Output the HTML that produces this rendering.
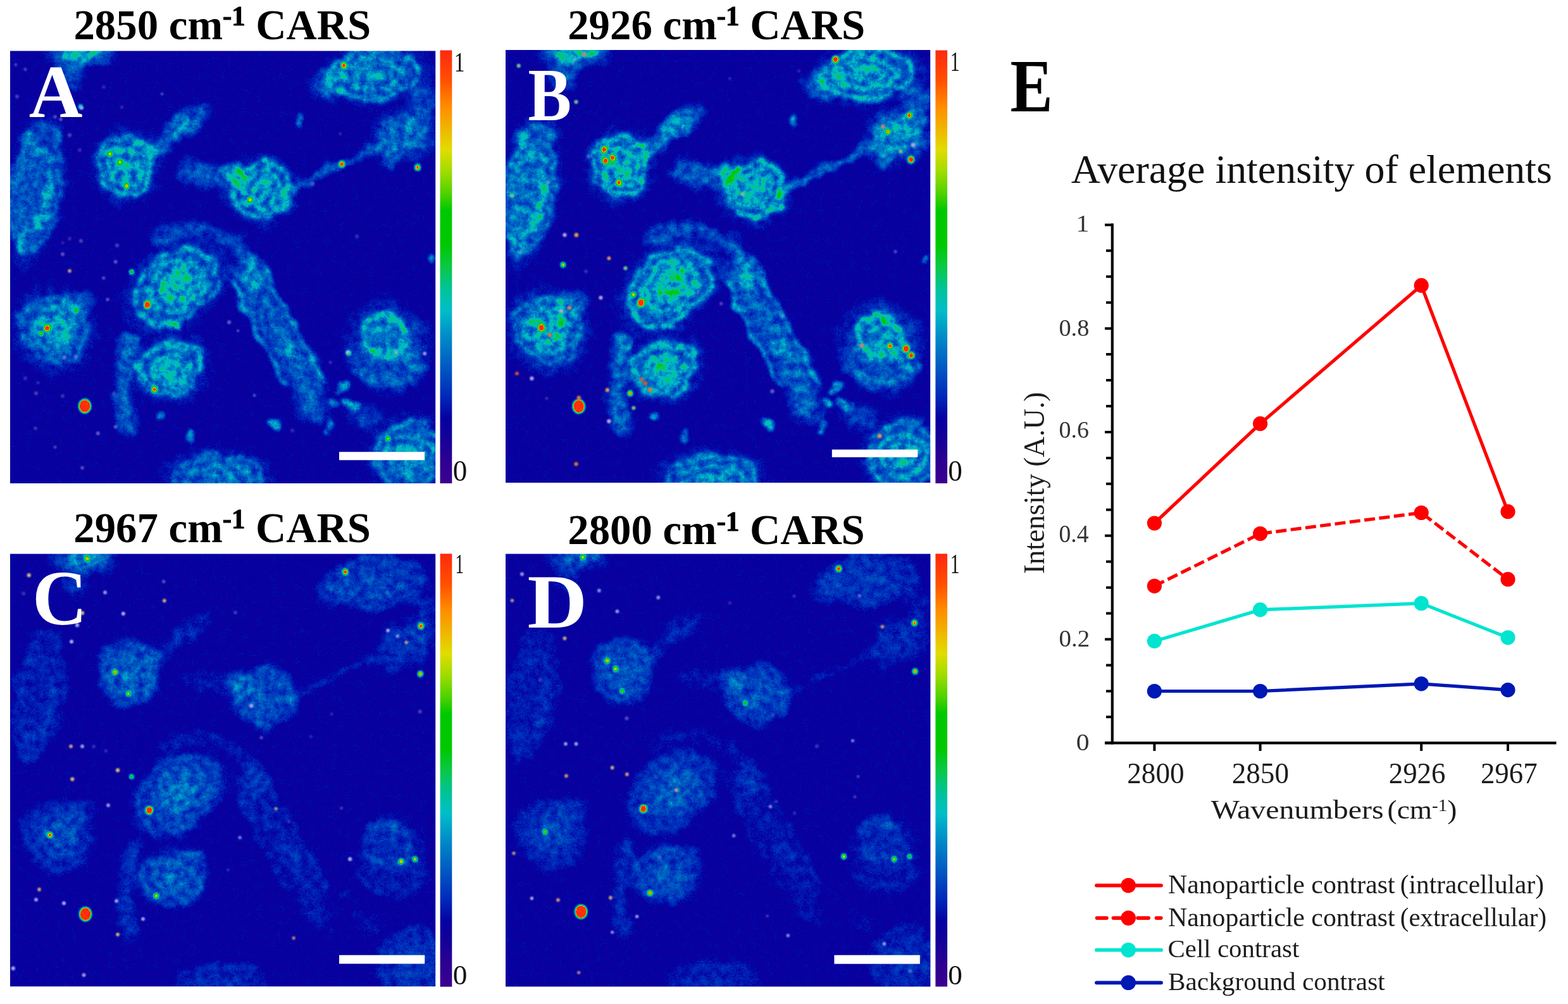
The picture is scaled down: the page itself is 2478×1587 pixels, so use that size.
<!DOCTYPE html>
<html lang="en"><head><meta charset="utf-8"><title>CARS imaging of nanoparticle contrast</title>
<style>html,body{margin:0;padding:0;background:#fff}body{width:2478px;height:1587px;overflow:hidden}svg{display:block}text{white-space:pre}</style></head><body>
<svg width="2478" height="1587" viewBox="0 0 2478 1587" role="img" aria-label="CARS images at four wavenumbers and average intensity chart">
<defs>
<linearGradient id="cb" x1="0" y1="1" x2="0" y2="0">
<stop offset="0" stop-color="#3c0090"/>
<stop offset="0.05" stop-color="#2d0091"/>
<stop offset="0.1" stop-color="#160098"/>
<stop offset="0.15" stop-color="#0600a0"/>
<stop offset="0.2" stop-color="#0028b9"/>
<stop offset="0.27" stop-color="#005ac3"/>
<stop offset="0.34" stop-color="#008cc8"/>
<stop offset="0.4" stop-color="#00bec8"/>
<stop offset="0.45" stop-color="#00c396"/>
<stop offset="0.5" stop-color="#0ac846"/>
<stop offset="0.55" stop-color="#00c800"/>
<stop offset="0.63" stop-color="#00c800"/>
<stop offset="0.67" stop-color="#50d200"/>
<stop offset="0.72" stop-color="#a0dc00"/>
<stop offset="0.77" stop-color="#e1dc00"/>
<stop offset="0.82" stop-color="#f0b400"/>
<stop offset="0.87" stop-color="#ff8c00"/>
<stop offset="0.93" stop-color="#ff5000"/>
<stop offset="1" stop-color="#ff2810"/>
</linearGradient>
<clipPath id="pc"><rect width="672" height="683"/></clipPath><filter id="db" filterUnits="userSpaceOnUse" x="0" y="0" width="672" height="683"><feGaussianBlur stdDeviation="0.9"/></filter><radialGradient id="hg"><stop offset="0.45" stop-color="#f00" stop-opacity="1"/><stop offset="0.75" stop-color="#f00" stop-opacity="0.45"/><stop offset="1" stop-color="#f00" stop-opacity="0"/></radialGradient>
<filter id="fmA" filterUnits="userSpaceOnUse" x="-40" y="-40" width="752" height="763" color-interpolation-filters="sRGB"><feTurbulence type="fractalNoise" baseFrequency="0.028" numOctaves="2" seed="5" result="lo"/><feDisplacementMap in="SourceGraphic" in2="lo" scale="28" xChannelSelector="R" yChannelSelector="G" result="d"/><feGaussianBlur in="d" stdDeviation="2.5" result="s"/><feColorMatrix in="s" type="matrix" values="0.62 0 0 0 -0.0 0.62 0 0 0 -0.0 0.62 0 0 0 -0.0 0 0 0 0 1" result="cr"/><feGaussianBlur in="SourceGraphic" stdDeviation="2.0" result="s2"/><feColorMatrix in="s2" type="matrix" values="0 1 0 0 0 0 1 0 0 0 0 1 0 0 0 0 0 0 0 1" result="sg"/><feTurbulence type="fractalNoise" baseFrequency="0.085" numOctaves="3" seed="3" result="n"/><feColorMatrix in="n" type="matrix" values="1.55 0 0 0 -0.275 1.55 0 0 0 -0.275 1.55 0 0 0 -0.275 0 0 0 0 1" result="ng"/><feComposite in="cr" in2="ng" operator="arithmetic" k1="1.0" k2="0.5" k3="0.025" k4="0.132" result="v1"/><feComposite in="v1" in2="sg" operator="arithmetic" k1="0" k2="1" k3="1.7" k4="0" result="v2"/><feTurbulence type="fractalNoise" baseFrequency="0.42" numOctaves="1" seed="53" result="nf"/><feColorMatrix in="nf" type="matrix" values="1 0 0 0 0 1 0 0 0 0 1 0 0 0 0 0 0 0 0 1" result="nfg"/><feComposite in="v2" in2="nfg" operator="arithmetic" k1="0.2" k2="0.9" k3="0.05" k4="-0.025" result="v"/><feComponentTransfer in="v"><feFuncR type="table" tableValues="0.235 0.206 0.176 0.131 0.086 0.055 0.024 0.012 0.000 0.000 0.000 0.000 0.000 0.000 0.000 0.000 0.000 0.000 0.000 0.020 0.039 0.020 0.000 0.000 0.000 0.000 0.157 0.345 0.502 0.653 0.780 0.888 0.918 0.947 0.976 1.000 1.000 1.000 1.000 1.000 1.000"/><feFuncG type="table" tableValues="0.000 0.000 0.000 0.000 0.000 0.000 0.000 0.078 0.157 0.227 0.297 0.367 0.437 0.507 0.582 0.663 0.745 0.755 0.765 0.775 0.784 0.784 0.784 0.784 0.784 0.784 0.804 0.827 0.847 0.863 0.863 0.847 0.769 0.690 0.612 0.529 0.431 0.333 0.269 0.213 0.157"/><feFuncB type="table" tableValues="0.565 0.567 0.569 0.582 0.596 0.612 0.627 0.676 0.725 0.739 0.754 0.766 0.773 0.780 0.784 0.784 0.784 0.686 0.588 0.431 0.275 0.137 0.000 0.000 0.000 0.000 0.000 0.000 0.000 0.000 0.000 0.000 0.000 0.000 0.000 0.000 0.000 0.000 0.018 0.040 0.063"/></feComponentTransfer></filter>
<filter id="fmB" filterUnits="userSpaceOnUse" x="-40" y="-40" width="752" height="763" color-interpolation-filters="sRGB"><feTurbulence type="fractalNoise" baseFrequency="0.028" numOctaves="2" seed="5" result="lo"/><feDisplacementMap in="SourceGraphic" in2="lo" scale="28" xChannelSelector="R" yChannelSelector="G" result="d"/><feGaussianBlur in="d" stdDeviation="2.5" result="s"/><feColorMatrix in="s" type="matrix" values="0.62 0 0 0 -0.0 0.62 0 0 0 -0.0 0.62 0 0 0 -0.0 0 0 0 0 1" result="cr"/><feGaussianBlur in="SourceGraphic" stdDeviation="2.0" result="s2"/><feColorMatrix in="s2" type="matrix" values="0 1 0 0 0 0 1 0 0 0 0 1 0 0 0 0 0 0 0 1" result="sg"/><feTurbulence type="fractalNoise" baseFrequency="0.085" numOctaves="3" seed="11" result="n"/><feColorMatrix in="n" type="matrix" values="1.55 0 0 0 -0.275 1.55 0 0 0 -0.275 1.55 0 0 0 -0.275 0 0 0 0 1" result="ng"/><feComposite in="cr" in2="ng" operator="arithmetic" k1="1.0" k2="0.5" k3="0.025" k4="0.132" result="v1"/><feComposite in="v1" in2="sg" operator="arithmetic" k1="0" k2="1" k3="1.7" k4="0" result="v2"/><feTurbulence type="fractalNoise" baseFrequency="0.42" numOctaves="1" seed="61" result="nf"/><feColorMatrix in="nf" type="matrix" values="1 0 0 0 0 1 0 0 0 0 1 0 0 0 0 0 0 0 0 1" result="nfg"/><feComposite in="v2" in2="nfg" operator="arithmetic" k1="0.2" k2="0.9" k3="0.05" k4="-0.025" result="v"/><feComponentTransfer in="v"><feFuncR type="table" tableValues="0.235 0.206 0.176 0.131 0.086 0.055 0.024 0.012 0.000 0.000 0.000 0.000 0.000 0.000 0.000 0.000 0.000 0.000 0.000 0.020 0.039 0.020 0.000 0.000 0.000 0.000 0.157 0.345 0.502 0.653 0.780 0.888 0.918 0.947 0.976 1.000 1.000 1.000 1.000 1.000 1.000"/><feFuncG type="table" tableValues="0.000 0.000 0.000 0.000 0.000 0.000 0.000 0.078 0.157 0.227 0.297 0.367 0.437 0.507 0.582 0.663 0.745 0.755 0.765 0.775 0.784 0.784 0.784 0.784 0.784 0.784 0.804 0.827 0.847 0.863 0.863 0.847 0.769 0.690 0.612 0.529 0.431 0.333 0.269 0.213 0.157"/><feFuncB type="table" tableValues="0.565 0.567 0.569 0.582 0.596 0.612 0.627 0.676 0.725 0.739 0.754 0.766 0.773 0.780 0.784 0.784 0.784 0.686 0.588 0.431 0.275 0.137 0.000 0.000 0.000 0.000 0.000 0.000 0.000 0.000 0.000 0.000 0.000 0.000 0.000 0.000 0.000 0.000 0.018 0.040 0.063"/></feComponentTransfer></filter>
<filter id="fmC" filterUnits="userSpaceOnUse" x="-40" y="-40" width="752" height="763" color-interpolation-filters="sRGB"><feTurbulence type="fractalNoise" baseFrequency="0.028" numOctaves="2" seed="5" result="lo"/><feDisplacementMap in="SourceGraphic" in2="lo" scale="28" xChannelSelector="R" yChannelSelector="G" result="d"/><feGaussianBlur in="d" stdDeviation="4.6" result="s"/><feColorMatrix in="s" type="matrix" values="0.66 0 0 0 -0.012 0.66 0 0 0 -0.012 0.66 0 0 0 -0.012 0 0 0 0 1" result="cr"/><feGaussianBlur in="SourceGraphic" stdDeviation="2.0" result="s2"/><feColorMatrix in="s2" type="matrix" values="0 1 0 0 0 0 1 0 0 0 0 1 0 0 0 0 0 0 0 1" result="sg"/><feTurbulence type="fractalNoise" baseFrequency="0.085" numOctaves="3" seed="23" result="n"/><feColorMatrix in="n" type="matrix" values="1.55 0 0 0 -0.275 1.55 0 0 0 -0.275 1.55 0 0 0 -0.275 0 0 0 0 1" result="ng"/><feComposite in="cr" in2="ng" operator="arithmetic" k1="1.0" k2="0.5" k3="0.025" k4="0.132" result="v1"/><feComposite in="v1" in2="sg" operator="arithmetic" k1="0" k2="1" k3="1.7" k4="0" result="v2"/><feTurbulence type="fractalNoise" baseFrequency="0.42" numOctaves="1" seed="73" result="nf"/><feColorMatrix in="nf" type="matrix" values="1 0 0 0 0 1 0 0 0 0 1 0 0 0 0 0 0 0 0 1" result="nfg"/><feComposite in="v2" in2="nfg" operator="arithmetic" k1="0.2" k2="0.9" k3="0.05" k4="-0.025" result="v"/><feComponentTransfer in="v"><feFuncR type="table" tableValues="0.235 0.206 0.176 0.131 0.086 0.055 0.024 0.012 0.000 0.000 0.000 0.000 0.000 0.000 0.000 0.000 0.000 0.000 0.000 0.020 0.039 0.020 0.000 0.000 0.000 0.000 0.157 0.345 0.502 0.653 0.780 0.888 0.918 0.947 0.976 1.000 1.000 1.000 1.000 1.000 1.000"/><feFuncG type="table" tableValues="0.000 0.000 0.000 0.000 0.000 0.000 0.000 0.078 0.157 0.227 0.297 0.367 0.437 0.507 0.582 0.663 0.745 0.755 0.765 0.775 0.784 0.784 0.784 0.784 0.784 0.784 0.804 0.827 0.847 0.863 0.863 0.847 0.769 0.690 0.612 0.529 0.431 0.333 0.269 0.213 0.157"/><feFuncB type="table" tableValues="0.565 0.567 0.569 0.582 0.596 0.612 0.627 0.676 0.725 0.739 0.754 0.766 0.773 0.780 0.784 0.784 0.784 0.686 0.588 0.431 0.275 0.137 0.000 0.000 0.000 0.000 0.000 0.000 0.000 0.000 0.000 0.000 0.000 0.000 0.000 0.000 0.000 0.000 0.018 0.040 0.063"/></feComponentTransfer></filter>
<filter id="fmD" filterUnits="userSpaceOnUse" x="-40" y="-40" width="752" height="763" color-interpolation-filters="sRGB"><feTurbulence type="fractalNoise" baseFrequency="0.028" numOctaves="2" seed="5" result="lo"/><feDisplacementMap in="SourceGraphic" in2="lo" scale="28" xChannelSelector="R" yChannelSelector="G" result="d"/><feGaussianBlur in="d" stdDeviation="5.2" result="s"/><feColorMatrix in="s" type="matrix" values="0.66 0 0 0 -0.014 0.66 0 0 0 -0.014 0.66 0 0 0 -0.014 0 0 0 0 1" result="cr"/><feGaussianBlur in="SourceGraphic" stdDeviation="2.0" result="s2"/><feColorMatrix in="s2" type="matrix" values="0 1 0 0 0 0 1 0 0 0 0 1 0 0 0 0 0 0 0 1" result="sg"/><feTurbulence type="fractalNoise" baseFrequency="0.085" numOctaves="3" seed="37" result="n"/><feColorMatrix in="n" type="matrix" values="1.55 0 0 0 -0.275 1.55 0 0 0 -0.275 1.55 0 0 0 -0.275 0 0 0 0 1" result="ng"/><feComposite in="cr" in2="ng" operator="arithmetic" k1="1.0" k2="0.5" k3="0.025" k4="0.132" result="v1"/><feComposite in="v1" in2="sg" operator="arithmetic" k1="0" k2="1" k3="1.7" k4="0" result="v2"/><feTurbulence type="fractalNoise" baseFrequency="0.42" numOctaves="1" seed="87" result="nf"/><feColorMatrix in="nf" type="matrix" values="1 0 0 0 0 1 0 0 0 0 1 0 0 0 0 0 0 0 0 1" result="nfg"/><feComposite in="v2" in2="nfg" operator="arithmetic" k1="0.2" k2="0.9" k3="0.05" k4="-0.025" result="v"/><feComponentTransfer in="v"><feFuncR type="table" tableValues="0.235 0.206 0.176 0.131 0.086 0.055 0.024 0.012 0.000 0.000 0.000 0.000 0.000 0.000 0.000 0.000 0.000 0.000 0.000 0.020 0.039 0.020 0.000 0.000 0.000 0.000 0.157 0.345 0.502 0.653 0.780 0.888 0.918 0.947 0.976 1.000 1.000 1.000 1.000 1.000 1.000"/><feFuncG type="table" tableValues="0.000 0.000 0.000 0.000 0.000 0.000 0.000 0.078 0.157 0.227 0.297 0.367 0.437 0.507 0.582 0.663 0.745 0.755 0.765 0.775 0.784 0.784 0.784 0.784 0.784 0.784 0.804 0.827 0.847 0.863 0.863 0.847 0.769 0.690 0.612 0.529 0.431 0.333 0.269 0.213 0.157"/><feFuncB type="table" tableValues="0.565 0.567 0.569 0.582 0.596 0.612 0.627 0.676 0.725 0.739 0.754 0.766 0.773 0.780 0.784 0.784 0.784 0.686 0.588 0.431 0.275 0.137 0.000 0.000 0.000 0.000 0.000 0.000 0.000 0.000 0.000 0.000 0.000 0.000 0.000 0.000 0.000 0.000 0.018 0.040 0.063"/></feComponentTransfer></filter>
</defs>
<rect width="2478" height="1587" fill="#fff"/>
<g transform="translate(16 80.5) scale(1.00030 1.00073)">
<g clip-path="url(#pc)"><g filter="url(#fmA)"><rect x="-40" y="-40" width="752" height="763" fill="#000"/><g transform="translate(0 0)"><g opacity="0.85"><ellipse cx="112" cy="0" rx="62" ry="34" fill="url(#hg)" fill-opacity="0.3"/><ellipse cx="116" cy="0" rx="34" ry="14" fill="#f00" fill-opacity="0.22"/><ellipse cx="92" cy="40" rx="30" ry="28" fill="url(#hg)" fill-opacity="0.2" transform="rotate(-30 92 40)"/></g><g opacity="0.68"><ellipse cx="40" cy="218" rx="52" ry="135.2" fill="url(#hg)" fill-opacity="0.22" transform="rotate(8 40 218)"/><ellipse cx="40" cy="218" rx="40" ry="104" fill="#f00" fill-opacity="0.07" transform="rotate(8 40 218)"/><ellipse cx="40" cy="218" rx="38" ry="98.8" fill="none" stroke="#f00" stroke-width="8.2" stroke-opacity="0.16" transform="rotate(8 40 218)"/><ellipse cx="40" cy="218" rx="24.8" ry="64.48" fill="none" stroke="#f00" stroke-width="8.2" stroke-opacity="0.13" transform="rotate(8 40 218)"/><path d="M64 200 C58 228 50 250 44 280" fill="none" stroke="#f00" stroke-width="9" stroke-opacity="0.26" stroke-linecap="round" stroke-linejoin="round"/><ellipse cx="22" cy="295" rx="18" ry="32" fill="url(#hg)" fill-opacity="0.2" transform="rotate(10 22 295)"/><ellipse cx="30" cy="150" rx="14" ry="24" fill="#f00" fill-opacity="0.12" transform="rotate(10 30 150)"/></g><g opacity="0.8"><ellipse cx="184" cy="182" rx="65.25" ry="69.6" fill="url(#hg)" fill-opacity="0.22"/><ellipse cx="184" cy="182" rx="45" ry="48" fill="#f00" fill-opacity="0.07"/><ellipse cx="184" cy="182" rx="42.75" ry="45.6" fill="none" stroke="#f00" stroke-width="8.2" stroke-opacity="0.27"/><ellipse cx="184" cy="182" rx="27.9" ry="29.76" fill="none" stroke="#f00" stroke-width="8.2" stroke-opacity="0.26"/><ellipse cx="184" cy="182" rx="18" ry="19.2" fill="#f00" fill-opacity="0.25"/><path d="M206 146 A44 44 0 0 1 216 216" fill="none" stroke="#f00" stroke-width="8" stroke-opacity="0.16" stroke-linecap="round" stroke-linejoin="round"/></g><g opacity="0.68"><path d="M228 158 C250 135 272 122 302 92" fill="none" stroke="#f00" stroke-width="37.7" stroke-opacity="0.09" stroke-linecap="round" stroke-linejoin="round"/><path d="M228 158 C250 135 272 122 302 92" fill="none" stroke="#f00" stroke-width="26" stroke-opacity="0.1" stroke-linecap="round" stroke-linejoin="round"/><path d="M228 158 C250 135 272 122 302 92" fill="none" stroke="#f00" stroke-width="15.6" stroke-opacity="0.1" stroke-linecap="round" stroke-linejoin="round"/><ellipse cx="264" cy="124" rx="32" ry="24" fill="url(#hg)" fill-opacity="0.2" transform="rotate(-35 264 124)"/></g><g opacity="0.8"><ellipse cx="396" cy="220" rx="65.25" ry="66.7" fill="url(#hg)" fill-opacity="0.22"/><ellipse cx="396" cy="220" rx="45" ry="46" fill="#f00" fill-opacity="0.07"/><ellipse cx="396" cy="220" rx="42.75" ry="43.7" fill="none" stroke="#f00" stroke-width="8.2" stroke-opacity="0.3"/><ellipse cx="396" cy="220" rx="27.9" ry="28.52" fill="none" stroke="#f00" stroke-width="8.2" stroke-opacity="0.26"/><ellipse cx="396" cy="220" rx="18" ry="18.4" fill="#f00" fill-opacity="0.25"/><ellipse cx="356" cy="196" rx="26" ry="24" fill="url(#hg)" fill-opacity="0.3"/><path d="M426 190 A40 40 0 0 1 426 254" fill="none" stroke="#f00" stroke-width="7" stroke-opacity="0.14" stroke-linecap="round" stroke-linejoin="round"/></g><g opacity="0.7"><path d="M282 188 C302 198 330 200 356 200" fill="none" stroke="#f00" stroke-width="43.5" stroke-opacity="0.08" stroke-linecap="round" stroke-linejoin="round"/><path d="M282 188 C302 198 330 200 356 200" fill="none" stroke="#f00" stroke-width="30" stroke-opacity="0.1" stroke-linecap="round" stroke-linejoin="round"/><path d="M282 188 C302 198 330 200 356 200" fill="none" stroke="#f00" stroke-width="18" stroke-opacity="0.1" stroke-linecap="round" stroke-linejoin="round"/></g><g opacity="0.5"><path d="M438 226 C470 205 490 184 525 176 S560 160 582 148" fill="none" stroke="#f00" stroke-width="17.4" stroke-opacity="0.13" stroke-linecap="round" stroke-linejoin="round"/><path d="M438 226 C470 205 490 184 525 176 S560 160 582 148" fill="none" stroke="#f00" stroke-width="12" stroke-opacity="0.14" stroke-linecap="round" stroke-linejoin="round"/><path d="M438 226 C470 205 490 184 525 176 S560 160 582 148" fill="none" stroke="#f00" stroke-width="7.2" stroke-opacity="0.14" stroke-linecap="round" stroke-linejoin="round"/></g><g opacity="0.58"><ellipse cx="625" cy="135" rx="62" ry="52" fill="url(#hg)" fill-opacity="0.28"/><ellipse cx="618" cy="130" rx="38" ry="28" fill="#f00" fill-opacity="0.12" transform="rotate(-20 618 130)"/><ellipse cx="650" cy="110" rx="20" ry="24" fill="#f00" fill-opacity="0.16"/><path d="M585 136 C600 118 625 112 646 120" fill="none" stroke="#f00" stroke-width="7" stroke-opacity="0.18" stroke-linecap="round" stroke-linejoin="round"/><path d="M592 160 C612 150 630 156 648 150" fill="none" stroke="#f00" stroke-width="7" stroke-opacity="0.14" stroke-linecap="round" stroke-linejoin="round"/><ellipse cx="600" cy="168" rx="26" ry="18" fill="url(#hg)" fill-opacity="0.2"/></g><g opacity="0.7"><ellipse cx="574" cy="36" rx="106.4" ry="56" fill="url(#hg)" fill-opacity="0.22" transform="rotate(-5 574 36)"/><ellipse cx="574" cy="36" rx="76" ry="40" fill="#f00" fill-opacity="0.07" transform="rotate(-5 574 36)"/><ellipse cx="574" cy="36" rx="72.2" ry="38" fill="none" stroke="#f00" stroke-width="8.2" stroke-opacity="0.3" transform="rotate(-5 574 36)"/><ellipse cx="574" cy="36" rx="47.12" ry="24.8" fill="none" stroke="#f00" stroke-width="8.2" stroke-opacity="0.26" transform="rotate(-5 574 36)"/><ellipse cx="574" cy="36" rx="30.4" ry="16" fill="#f00" fill-opacity="0.22" transform="rotate(-5 574 36)"/><ellipse cx="505" cy="52" rx="36" ry="34" fill="url(#hg)" fill-opacity="0.22"/><ellipse cx="652" cy="78" rx="34" ry="32" fill="url(#hg)" fill-opacity="0.2"/></g><g opacity="0.8"><ellipse cx="262" cy="372" rx="106.4" ry="72.8" fill="url(#hg)" fill-opacity="0.22" transform="rotate(-38 262 372)"/><ellipse cx="262" cy="372" rx="76" ry="52" fill="#f00" fill-opacity="0.07" transform="rotate(-38 262 372)"/><ellipse cx="262" cy="372" rx="72.2" ry="49.4" fill="none" stroke="#f00" stroke-width="8.2" stroke-opacity="0.27" transform="rotate(-38 262 372)"/><ellipse cx="262" cy="372" rx="47.12" ry="32.24" fill="none" stroke="#f00" stroke-width="8.2" stroke-opacity="0.26" transform="rotate(-38 262 372)"/><ellipse cx="262" cy="372" rx="31.92" ry="21.84" fill="#f00" fill-opacity="0.28" transform="rotate(-38 262 372)"/><ellipse cx="270" cy="366" rx="34" ry="22" fill="#f00" fill-opacity="0.1" transform="rotate(-38 270 366)"/></g><g opacity="0.6"><path d="M232 300 C270 272 320 276 350 300 S380 345 390 365" fill="none" stroke="#f00" stroke-width="31.9" stroke-opacity="0.09" stroke-linecap="round" stroke-linejoin="round"/><path d="M232 300 C270 272 320 276 350 300 S380 345 390 365" fill="none" stroke="#f00" stroke-width="22" stroke-opacity="0.1" stroke-linecap="round" stroke-linejoin="round"/><path d="M232 300 C270 272 320 276 350 300 S380 345 390 365" fill="none" stroke="#f00" stroke-width="13.2" stroke-opacity="0.1" stroke-linecap="round" stroke-linejoin="round"/></g><g opacity="0.8"><path d="M372 350 C390 390 420 440 445 480 S470 530 478 560" fill="none" stroke="#f00" stroke-width="63.8" stroke-opacity="0.08" stroke-linecap="round" stroke-linejoin="round"/><path d="M372 350 C390 390 420 440 445 480 S470 530 478 560" fill="none" stroke="#f00" stroke-width="44" stroke-opacity="0.1" stroke-linecap="round" stroke-linejoin="round"/><path d="M372 350 C390 390 420 440 445 480 S470 530 478 560" fill="none" stroke="#f00" stroke-width="26.4" stroke-opacity="0.1" stroke-linecap="round" stroke-linejoin="round"/><path d="M356 366 C373 420 406 472 436 522" fill="none" stroke="#f00" stroke-width="7" stroke-opacity="0.32" stroke-linecap="round" stroke-linejoin="round"/><path d="M398 344 C422 392 462 450 494 524" fill="none" stroke="#f00" stroke-width="7" stroke-opacity="0.3" stroke-linecap="round" stroke-linejoin="round"/><ellipse cx="440" cy="470" rx="10" ry="22" fill="#f00" fill-opacity="0.12" transform="rotate(-32 440 470)"/></g><g opacity="0.72"><ellipse cx="70" cy="440" rx="72.5" ry="81.2" fill="url(#hg)" fill-opacity="0.22" transform="rotate(-15 70 440)"/><ellipse cx="70" cy="440" rx="50" ry="56" fill="#f00" fill-opacity="0.07" transform="rotate(-15 70 440)"/><ellipse cx="70" cy="440" rx="47.5" ry="53.2" fill="none" stroke="#f00" stroke-width="8.2" stroke-opacity="0.14" transform="rotate(-15 70 440)"/><ellipse cx="70" cy="440" rx="31" ry="34.72" fill="none" stroke="#f00" stroke-width="8.2" stroke-opacity="0.18" transform="rotate(-15 70 440)"/><ellipse cx="70" cy="440" rx="22.5" ry="25.2" fill="#f00" fill-opacity="0.25" transform="rotate(-15 70 440)"/><ellipse cx="102" cy="398" rx="34" ry="24" fill="url(#hg)" fill-opacity="0.2" transform="rotate(-30 102 398)"/><ellipse cx="90" cy="440" rx="11" ry="22" fill="#f00" fill-opacity="0.2" transform="rotate(10 90 440)"/><ellipse cx="55" cy="428" rx="16" ry="12" fill="#f00" fill-opacity="0.2"/></g><g opacity="0.8"><ellipse cx="254" cy="502" rx="72.8" ry="58.8" fill="url(#hg)" fill-opacity="0.22" transform="rotate(-10 254 502)"/><ellipse cx="254" cy="502" rx="52" ry="42" fill="#f00" fill-opacity="0.07" transform="rotate(-10 254 502)"/><ellipse cx="254" cy="502" rx="49.4" ry="39.9" fill="none" stroke="#f00" stroke-width="8.2" stroke-opacity="0.3" transform="rotate(-10 254 502)"/><ellipse cx="254" cy="502" rx="32.24" ry="26.04" fill="none" stroke="#f00" stroke-width="8.2" stroke-opacity="0.26" transform="rotate(-10 254 502)"/><ellipse cx="254" cy="502" rx="23.4" ry="18.9" fill="#f00" fill-opacity="0.3" transform="rotate(-10 254 502)"/><path d="M186 470 C176 510 176 550 186 590" fill="none" stroke="#f00" stroke-width="40.6" stroke-opacity="0.08" stroke-linecap="round" stroke-linejoin="round"/><path d="M186 470 C176 510 176 550 186 590" fill="none" stroke="#f00" stroke-width="28" stroke-opacity="0.1" stroke-linecap="round" stroke-linejoin="round"/><path d="M186 470 C176 510 176 550 186 590" fill="none" stroke="#f00" stroke-width="16.8" stroke-opacity="0.1" stroke-linecap="round" stroke-linejoin="round"/><ellipse cx="192" cy="455" rx="12" ry="14" fill="#f00" fill-opacity="0.24"/></g><g opacity="0.8"><ellipse cx="598" cy="466" rx="78" ry="82" fill="url(#hg)" fill-opacity="0.22" transform="rotate(-20 598 466)"/><ellipse cx="590" cy="452" rx="40" ry="40" fill="#f00" fill-opacity="0.1"/><ellipse cx="588" cy="450" rx="34" ry="34" fill="none" stroke="#f00" stroke-width="7" stroke-opacity="0.24"/><ellipse cx="588" cy="452" rx="18" ry="18" fill="none" stroke="#f00" stroke-width="6" stroke-opacity="0.12"/><path d="M556 440 C568 414 606 410 624 442" fill="none" stroke="#f00" stroke-width="8" stroke-opacity="0.2" stroke-linecap="round" stroke-linejoin="round"/><path d="M560 480 H640" fill="none" stroke="#f00" stroke-width="7" stroke-opacity="0.2" stroke-linecap="round" stroke-linejoin="round"/><path d="M545 500 C570 530 620 535 655 505" fill="none" stroke="#f00" stroke-width="26.1" stroke-opacity="0.06" stroke-linecap="round" stroke-linejoin="round"/><path d="M545 500 C570 530 620 535 655 505" fill="none" stroke="#f00" stroke-width="18" stroke-opacity="0.07" stroke-linecap="round" stroke-linejoin="round"/><path d="M545 500 C570 530 620 535 655 505" fill="none" stroke="#f00" stroke-width="10.8" stroke-opacity="0.07" stroke-linecap="round" stroke-linejoin="round"/><ellipse cx="565" cy="426" rx="7" ry="6" fill="#f00" fill-opacity="0.3"/><ellipse cx="603" cy="426" rx="7" ry="6" fill="#f00" fill-opacity="0.3"/><ellipse cx="575" cy="477" rx="6" ry="7" fill="#f00" fill-opacity="0.34"/><ellipse cx="603" cy="473" rx="8" ry="5" fill="#f00" fill-opacity="0.28"/><ellipse cx="640" cy="500" rx="6" ry="10" fill="#f00" fill-opacity="0.2" transform="rotate(-30 640 500)"/></g><g opacity="0.72"><ellipse cx="630" cy="640" rx="72.9" ry="75.6" fill="url(#hg)" fill-opacity="0.22"/><ellipse cx="630" cy="640" rx="54" ry="56" fill="#f00" fill-opacity="0.07"/><ellipse cx="630" cy="640" rx="51.3" ry="53.2" fill="none" stroke="#f00" stroke-width="8.2" stroke-opacity="0.24"/><ellipse cx="630" cy="640" rx="33.48" ry="34.72" fill="none" stroke="#f00" stroke-width="8.2" stroke-opacity="0.23"/><ellipse cx="630" cy="640" rx="21.6" ry="22.4" fill="#f00" fill-opacity="0.22"/><ellipse cx="560" cy="578" rx="30" ry="26" fill="url(#hg)" fill-opacity="0.16"/></g><g opacity="0.65"><ellipse cx="330" cy="678" rx="103.6" ry="56" fill="url(#hg)" fill-opacity="0.22"/><ellipse cx="330" cy="678" rx="74" ry="40" fill="#f00" fill-opacity="0.07"/><ellipse cx="330" cy="678" rx="70.3" ry="38" fill="none" stroke="#f00" stroke-width="8.2" stroke-opacity="0.24"/><ellipse cx="330" cy="678" rx="45.88" ry="24.8" fill="none" stroke="#f00" stroke-width="8.2" stroke-opacity="0.21"/><ellipse cx="330" cy="678" rx="29.6" ry="16" fill="#f00" fill-opacity="0.18"/></g><g opacity="1"><ellipse cx="414" cy="588" rx="8" ry="8" fill="#f00" fill-opacity="0.4"/><ellipse cx="516" cy="554" rx="7" ry="7" fill="#f00" fill-opacity="0.4"/><ellipse cx="540" cy="556" rx="10" ry="10" fill="#f00" fill-opacity="0.3"/><ellipse cx="527" cy="532" rx="7" ry="7" fill="#f00" fill-opacity="0.35"/><ellipse cx="505" cy="584" rx="8" ry="8" fill="#f00" fill-opacity="0.3"/><ellipse cx="500" cy="600" rx="6" ry="6" fill="#f00" fill-opacity="0.3"/><ellipse cx="235" cy="575" rx="5" ry="5" fill="#f00" fill-opacity="0.35"/><ellipse cx="260" cy="435" rx="8" ry="8" fill="#f00" fill-opacity="0.35"/><ellipse cx="285" cy="610" rx="8" ry="8" fill="#f00" fill-opacity="0.3"/><ellipse cx="662" cy="322" rx="5" ry="5" fill="#f00" fill-opacity="0.4"/><ellipse cx="455" cy="108" rx="6" ry="6" fill="#f00" fill-opacity="0.3"/></g></g><g style="mix-blend-mode:screen"><ellipse cx="118" cy="561" rx="7.82" ry="9.35" fill="#0f0" fill-opacity="1"/><ellipse cx="216.7" cy="401" rx="3.6" ry="4.4" fill="#0f0" fill-opacity="0.95"/><ellipse cx="58.3" cy="438" rx="2.88" ry="3.52" fill="#0f0" fill-opacity="0.85"/><ellipse cx="49" cy="446" rx="2.16" ry="2.64" fill="#0f0" fill-opacity="0.6"/><ellipse cx="524" cy="178.7" rx="2.88" ry="3.52" fill="#0f0" fill-opacity="0.8"/><ellipse cx="643.7" cy="184" rx="3.02" ry="3.7" fill="#0f0" fill-opacity="0.75"/><ellipse cx="527" cy="23" rx="2.88" ry="3.52" fill="#0f0" fill-opacity="0.8"/><ellipse cx="173.6" cy="176" rx="2.16" ry="2.64" fill="#0f0" fill-opacity="0.6"/><ellipse cx="158" cy="163" rx="2.16" ry="2.64" fill="#0f0" fill-opacity="0.65"/><ellipse cx="184" cy="214" rx="2.3" ry="2.82" fill="#0f0" fill-opacity="0.6"/><ellipse cx="378.8" cy="234.8" rx="2.16" ry="2.64" fill="#0f0" fill-opacity="0.7"/><ellipse cx="228" cy="534.6" rx="2.52" ry="3.08" fill="#0f0" fill-opacity="0.75"/><ellipse cx="191.8" cy="349" rx="2.16" ry="2.64" fill="#0f0" fill-opacity="0.7"/><ellipse cx="534.6" cy="477.4" rx="2.16" ry="2.64" fill="#0f0" fill-opacity="0.6"/><ellipse cx="597" cy="612.5" rx="2.16" ry="2.64" fill="#0f0" fill-opacity="0.65"/><ellipse cx="111.3" cy="87.8" rx="2.16" ry="2.64" fill="#0f0" fill-opacity="0.5"/><ellipse cx="105.5" cy="410.8" rx="2.02" ry="2.46" fill="#0f0" fill-opacity="0.5"/></g></g><g filter="url(#db)"><g opacity="0.8"><circle cx="9" cy="22" r="2.44" fill="#a898ee" fill-opacity="0.52"/><circle cx="24" cy="29" r="2.57" fill="#a898ee" fill-opacity="0.54"/><circle cx="148" cy="57" r="2.83" fill="#a898ee" fill-opacity="0.33"/><circle cx="240" cy="68" r="2.21" fill="#a898ee" fill-opacity="0.63"/><circle cx="176.5" cy="89" r="2.46" fill="#a898ee" fill-opacity="0.39"/><circle cx="94" cy="133" r="3.2" fill="#a898ee" fill-opacity="0.49"/><circle cx="11" cy="72" r="3.04" fill="#a898ee" fill-opacity="0.49"/><circle cx="110" cy="156.6" r="2.84" fill="#a898ee" fill-opacity="0.36"/><circle cx="80" cy="108" r="2.83" fill="#a898ee" fill-opacity="0.65"/><circle cx="71" cy="104" r="2.72" fill="#a898ee" fill-opacity="0.6"/><circle cx="94" cy="296.5" r="2.87" fill="#a898ee" fill-opacity="0.33"/><circle cx="112" cy="300" r="2.96" fill="#a898ee" fill-opacity="0.54"/><circle cx="83" cy="303" r="2.5" fill="#a898ee" fill-opacity="0.31"/><circle cx="169" cy="307" r="3.07" fill="#a898ee" fill-opacity="0.49"/><circle cx="83" cy="321" r="2.92" fill="#a898ee" fill-opacity="0.65"/><circle cx="166.6" cy="333" r="2.91" fill="#a898ee" fill-opacity="0.67"/><circle cx="147.7" cy="358.7" r="2.59" fill="#a898ee" fill-opacity="0.62"/><circle cx="154" cy="392.6" r="2.64" fill="#a898ee" fill-opacity="0.67"/><circle cx="24" cy="517" r="3.08" fill="#a898ee" fill-opacity="0.34"/><circle cx="44" cy="524" r="2.34" fill="#a898ee" fill-opacity="0.39"/><circle cx="41" cy="540.7" r="3.17" fill="#a898ee" fill-opacity="0.47"/><circle cx="83" cy="545" r="2.83" fill="#a898ee" fill-opacity="0.42"/><circle cx="40" cy="596" r="2.71" fill="#a898ee" fill-opacity="0.45"/><circle cx="71" cy="625.8" r="2.55" fill="#a898ee" fill-opacity="0.53"/><circle cx="114" cy="658.5" r="2.78" fill="#a898ee" fill-opacity="0.66"/><circle cx="166.6" cy="593.6" r="2.88" fill="#a898ee" fill-opacity="0.67"/><circle cx="138.8" cy="604" r="3.06" fill="#a898ee" fill-opacity="0.7"/><circle cx="164" cy="541" r="2.87" fill="#a898ee" fill-opacity="0.37"/><circle cx="85.5" cy="484" r="3.06" fill="#a898ee" fill-opacity="0.69"/><circle cx="104" cy="483" r="3.1" fill="#a898ee" fill-opacity="0.53"/><circle cx="548" cy="293" r="2.91" fill="#a898ee" fill-opacity="0.38"/><circle cx="478" cy="210" r="3.03" fill="#a898ee" fill-opacity="0.53"/><circle cx="521.4" cy="131" r="2.48" fill="#a898ee" fill-opacity="0.33"/><circle cx="346" cy="428.6" r="3.05" fill="#a898ee" fill-opacity="0.7"/><circle cx="360" cy="442" r="2.29" fill="#a898ee" fill-opacity="0.62"/><circle cx="506" cy="492" r="2.61" fill="#a898ee" fill-opacity="0.36"/><circle cx="386" cy="544" r="2.49" fill="#a898ee" fill-opacity="0.61"/><circle cx="446" cy="599.6" r="3.07" fill="#a898ee" fill-opacity="0.32"/></g><circle cx="94" cy="347.5" r="2.91" fill="#d2b27c" fill-opacity="0.85"/><circle cx="533.6" cy="476" r="2.91" fill="#b4aef4" fill-opacity="0.95"/><circle cx="113" cy="90" r="2.91" fill="#b4aef4" fill-opacity="0.85"/><circle cx="610" cy="476" r="2.91" fill="#8fa8f0" fill-opacity="0.85"/><circle cx="655" cy="478" r="2.91" fill="#a6a2f2" fill-opacity="0.95"/></g></g>
</g>
<rect x="695.5" y="79.5" width="18.8" height="684.5" fill="url(#cb)"/>
<g transform="translate(799 79) scale(0.99881 1.00146)">
<g clip-path="url(#pc)"><g filter="url(#fmB)"><rect x="-40" y="-40" width="752" height="763" fill="#000"/><g transform="translate(-2 1.5)"><g opacity="0.95"><ellipse cx="112" cy="0" rx="62" ry="34" fill="url(#hg)" fill-opacity="0.3"/><ellipse cx="116" cy="0" rx="34" ry="14" fill="#f00" fill-opacity="0.22"/><ellipse cx="92" cy="40" rx="30" ry="28" fill="url(#hg)" fill-opacity="0.2" transform="rotate(-30 92 40)"/></g><g opacity="0.86"><ellipse cx="40" cy="218" rx="52" ry="135.2" fill="url(#hg)" fill-opacity="0.22" transform="rotate(8 40 218)"/><ellipse cx="40" cy="218" rx="40" ry="104" fill="#f00" fill-opacity="0.07" transform="rotate(8 40 218)"/><ellipse cx="40" cy="218" rx="38" ry="98.8" fill="none" stroke="#f00" stroke-width="8.2" stroke-opacity="0.16" transform="rotate(8 40 218)"/><ellipse cx="40" cy="218" rx="24.8" ry="64.48" fill="none" stroke="#f00" stroke-width="8.2" stroke-opacity="0.13" transform="rotate(8 40 218)"/><path d="M64 200 C58 228 50 250 44 280" fill="none" stroke="#f00" stroke-width="9" stroke-opacity="0.26" stroke-linecap="round" stroke-linejoin="round"/><ellipse cx="22" cy="295" rx="18" ry="32" fill="url(#hg)" fill-opacity="0.2" transform="rotate(10 22 295)"/><ellipse cx="30" cy="150" rx="14" ry="24" fill="#f00" fill-opacity="0.12" transform="rotate(10 30 150)"/></g><g opacity="0.9"><ellipse cx="184" cy="182" rx="65.25" ry="69.6" fill="url(#hg)" fill-opacity="0.22"/><ellipse cx="184" cy="182" rx="45" ry="48" fill="#f00" fill-opacity="0.07"/><ellipse cx="184" cy="182" rx="42.75" ry="45.6" fill="none" stroke="#f00" stroke-width="8.2" stroke-opacity="0.27"/><ellipse cx="184" cy="182" rx="27.9" ry="29.76" fill="none" stroke="#f00" stroke-width="8.2" stroke-opacity="0.26"/><ellipse cx="184" cy="182" rx="18" ry="19.2" fill="#f00" fill-opacity="0.25"/><path d="M206 146 A44 44 0 0 1 216 216" fill="none" stroke="#f00" stroke-width="8" stroke-opacity="0.16" stroke-linecap="round" stroke-linejoin="round"/></g><g opacity="0.8"><path d="M228 158 C250 135 272 122 302 92" fill="none" stroke="#f00" stroke-width="37.7" stroke-opacity="0.09" stroke-linecap="round" stroke-linejoin="round"/><path d="M228 158 C250 135 272 122 302 92" fill="none" stroke="#f00" stroke-width="26" stroke-opacity="0.1" stroke-linecap="round" stroke-linejoin="round"/><path d="M228 158 C250 135 272 122 302 92" fill="none" stroke="#f00" stroke-width="15.6" stroke-opacity="0.1" stroke-linecap="round" stroke-linejoin="round"/><ellipse cx="264" cy="124" rx="32" ry="24" fill="url(#hg)" fill-opacity="0.2" transform="rotate(-35 264 124)"/></g><g opacity="0.88"><ellipse cx="396" cy="220" rx="65.25" ry="66.7" fill="url(#hg)" fill-opacity="0.22"/><ellipse cx="396" cy="220" rx="45" ry="46" fill="#f00" fill-opacity="0.07"/><ellipse cx="396" cy="220" rx="42.75" ry="43.7" fill="none" stroke="#f00" stroke-width="8.2" stroke-opacity="0.3"/><ellipse cx="396" cy="220" rx="27.9" ry="28.52" fill="none" stroke="#f00" stroke-width="8.2" stroke-opacity="0.26"/><ellipse cx="396" cy="220" rx="18" ry="18.4" fill="#f00" fill-opacity="0.25"/><ellipse cx="356" cy="196" rx="26" ry="24" fill="url(#hg)" fill-opacity="0.3"/><path d="M426 190 A40 40 0 0 1 426 254" fill="none" stroke="#f00" stroke-width="7" stroke-opacity="0.14" stroke-linecap="round" stroke-linejoin="round"/></g><g opacity="0.8"><path d="M282 188 C302 198 330 200 356 200" fill="none" stroke="#f00" stroke-width="43.5" stroke-opacity="0.08" stroke-linecap="round" stroke-linejoin="round"/><path d="M282 188 C302 198 330 200 356 200" fill="none" stroke="#f00" stroke-width="30" stroke-opacity="0.1" stroke-linecap="round" stroke-linejoin="round"/><path d="M282 188 C302 198 330 200 356 200" fill="none" stroke="#f00" stroke-width="18" stroke-opacity="0.1" stroke-linecap="round" stroke-linejoin="round"/></g><g opacity="0.62"><path d="M438 226 C470 205 490 184 525 176 S560 160 582 148" fill="none" stroke="#f00" stroke-width="17.4" stroke-opacity="0.13" stroke-linecap="round" stroke-linejoin="round"/><path d="M438 226 C470 205 490 184 525 176 S560 160 582 148" fill="none" stroke="#f00" stroke-width="12" stroke-opacity="0.14" stroke-linecap="round" stroke-linejoin="round"/><path d="M438 226 C470 205 490 184 525 176 S560 160 582 148" fill="none" stroke="#f00" stroke-width="7.2" stroke-opacity="0.14" stroke-linecap="round" stroke-linejoin="round"/></g><g opacity="0.8"><ellipse cx="625" cy="135" rx="62" ry="52" fill="url(#hg)" fill-opacity="0.28"/><ellipse cx="618" cy="130" rx="38" ry="28" fill="#f00" fill-opacity="0.12" transform="rotate(-20 618 130)"/><ellipse cx="650" cy="110" rx="20" ry="24" fill="#f00" fill-opacity="0.16"/><path d="M585 136 C600 118 625 112 646 120" fill="none" stroke="#f00" stroke-width="7" stroke-opacity="0.18" stroke-linecap="round" stroke-linejoin="round"/><path d="M592 160 C612 150 630 156 648 150" fill="none" stroke="#f00" stroke-width="7" stroke-opacity="0.14" stroke-linecap="round" stroke-linejoin="round"/><ellipse cx="600" cy="168" rx="26" ry="18" fill="url(#hg)" fill-opacity="0.2"/></g><g opacity="0.84"><ellipse cx="574" cy="36" rx="106.4" ry="56" fill="url(#hg)" fill-opacity="0.22" transform="rotate(-5 574 36)"/><ellipse cx="574" cy="36" rx="76" ry="40" fill="#f00" fill-opacity="0.07" transform="rotate(-5 574 36)"/><ellipse cx="574" cy="36" rx="72.2" ry="38" fill="none" stroke="#f00" stroke-width="8.2" stroke-opacity="0.3" transform="rotate(-5 574 36)"/><ellipse cx="574" cy="36" rx="47.12" ry="24.8" fill="none" stroke="#f00" stroke-width="8.2" stroke-opacity="0.26" transform="rotate(-5 574 36)"/><ellipse cx="574" cy="36" rx="30.4" ry="16" fill="#f00" fill-opacity="0.22" transform="rotate(-5 574 36)"/><ellipse cx="505" cy="52" rx="36" ry="34" fill="url(#hg)" fill-opacity="0.22"/><ellipse cx="652" cy="78" rx="34" ry="32" fill="url(#hg)" fill-opacity="0.2"/></g><g opacity="0.88"><ellipse cx="262" cy="372" rx="106.4" ry="72.8" fill="url(#hg)" fill-opacity="0.22" transform="rotate(-38 262 372)"/><ellipse cx="262" cy="372" rx="76" ry="52" fill="#f00" fill-opacity="0.07" transform="rotate(-38 262 372)"/><ellipse cx="262" cy="372" rx="72.2" ry="49.4" fill="none" stroke="#f00" stroke-width="8.2" stroke-opacity="0.27" transform="rotate(-38 262 372)"/><ellipse cx="262" cy="372" rx="47.12" ry="32.24" fill="none" stroke="#f00" stroke-width="8.2" stroke-opacity="0.26" transform="rotate(-38 262 372)"/><ellipse cx="262" cy="372" rx="31.92" ry="21.84" fill="#f00" fill-opacity="0.28" transform="rotate(-38 262 372)"/><ellipse cx="270" cy="366" rx="34" ry="22" fill="#f00" fill-opacity="0.1" transform="rotate(-38 270 366)"/></g><g opacity="0.7"><path d="M232 300 C270 272 320 276 350 300 S380 345 390 365" fill="none" stroke="#f00" stroke-width="31.9" stroke-opacity="0.09" stroke-linecap="round" stroke-linejoin="round"/><path d="M232 300 C270 272 320 276 350 300 S380 345 390 365" fill="none" stroke="#f00" stroke-width="22" stroke-opacity="0.1" stroke-linecap="round" stroke-linejoin="round"/><path d="M232 300 C270 272 320 276 350 300 S380 345 390 365" fill="none" stroke="#f00" stroke-width="13.2" stroke-opacity="0.1" stroke-linecap="round" stroke-linejoin="round"/></g><g opacity="0.86"><path d="M372 350 C390 390 420 440 445 480 S470 530 478 560" fill="none" stroke="#f00" stroke-width="63.8" stroke-opacity="0.08" stroke-linecap="round" stroke-linejoin="round"/><path d="M372 350 C390 390 420 440 445 480 S470 530 478 560" fill="none" stroke="#f00" stroke-width="44" stroke-opacity="0.1" stroke-linecap="round" stroke-linejoin="round"/><path d="M372 350 C390 390 420 440 445 480 S470 530 478 560" fill="none" stroke="#f00" stroke-width="26.4" stroke-opacity="0.1" stroke-linecap="round" stroke-linejoin="round"/><path d="M356 366 C373 420 406 472 436 522" fill="none" stroke="#f00" stroke-width="7" stroke-opacity="0.32" stroke-linecap="round" stroke-linejoin="round"/><path d="M398 344 C422 392 462 450 494 524" fill="none" stroke="#f00" stroke-width="7" stroke-opacity="0.3" stroke-linecap="round" stroke-linejoin="round"/><ellipse cx="440" cy="470" rx="10" ry="22" fill="#f00" fill-opacity="0.12" transform="rotate(-32 440 470)"/></g><g opacity="0.84"><ellipse cx="70" cy="440" rx="72.5" ry="81.2" fill="url(#hg)" fill-opacity="0.22" transform="rotate(-15 70 440)"/><ellipse cx="70" cy="440" rx="50" ry="56" fill="#f00" fill-opacity="0.07" transform="rotate(-15 70 440)"/><ellipse cx="70" cy="440" rx="47.5" ry="53.2" fill="none" stroke="#f00" stroke-width="8.2" stroke-opacity="0.14" transform="rotate(-15 70 440)"/><ellipse cx="70" cy="440" rx="31" ry="34.72" fill="none" stroke="#f00" stroke-width="8.2" stroke-opacity="0.18" transform="rotate(-15 70 440)"/><ellipse cx="70" cy="440" rx="22.5" ry="25.2" fill="#f00" fill-opacity="0.25" transform="rotate(-15 70 440)"/><ellipse cx="102" cy="398" rx="34" ry="24" fill="url(#hg)" fill-opacity="0.2" transform="rotate(-30 102 398)"/><ellipse cx="90" cy="440" rx="11" ry="22" fill="#f00" fill-opacity="0.2" transform="rotate(10 90 440)"/><ellipse cx="55" cy="428" rx="16" ry="12" fill="#f00" fill-opacity="0.2"/></g><g opacity="0.88"><ellipse cx="254" cy="502" rx="72.8" ry="58.8" fill="url(#hg)" fill-opacity="0.22" transform="rotate(-10 254 502)"/><ellipse cx="254" cy="502" rx="52" ry="42" fill="#f00" fill-opacity="0.07" transform="rotate(-10 254 502)"/><ellipse cx="254" cy="502" rx="49.4" ry="39.9" fill="none" stroke="#f00" stroke-width="8.2" stroke-opacity="0.3" transform="rotate(-10 254 502)"/><ellipse cx="254" cy="502" rx="32.24" ry="26.04" fill="none" stroke="#f00" stroke-width="8.2" stroke-opacity="0.26" transform="rotate(-10 254 502)"/><ellipse cx="254" cy="502" rx="23.4" ry="18.9" fill="#f00" fill-opacity="0.3" transform="rotate(-10 254 502)"/><path d="M186 470 C176 510 176 550 186 590" fill="none" stroke="#f00" stroke-width="40.6" stroke-opacity="0.08" stroke-linecap="round" stroke-linejoin="round"/><path d="M186 470 C176 510 176 550 186 590" fill="none" stroke="#f00" stroke-width="28" stroke-opacity="0.1" stroke-linecap="round" stroke-linejoin="round"/><path d="M186 470 C176 510 176 550 186 590" fill="none" stroke="#f00" stroke-width="16.8" stroke-opacity="0.1" stroke-linecap="round" stroke-linejoin="round"/><ellipse cx="192" cy="455" rx="12" ry="14" fill="#f00" fill-opacity="0.24"/></g><g opacity="0.88"><ellipse cx="598" cy="466" rx="78" ry="82" fill="url(#hg)" fill-opacity="0.22" transform="rotate(-20 598 466)"/><ellipse cx="590" cy="452" rx="40" ry="40" fill="#f00" fill-opacity="0.1"/><ellipse cx="588" cy="450" rx="34" ry="34" fill="none" stroke="#f00" stroke-width="7" stroke-opacity="0.24"/><ellipse cx="588" cy="452" rx="18" ry="18" fill="none" stroke="#f00" stroke-width="6" stroke-opacity="0.12"/><path d="M556 440 C568 414 606 410 624 442" fill="none" stroke="#f00" stroke-width="8" stroke-opacity="0.2" stroke-linecap="round" stroke-linejoin="round"/><path d="M560 480 H640" fill="none" stroke="#f00" stroke-width="7" stroke-opacity="0.2" stroke-linecap="round" stroke-linejoin="round"/><path d="M545 500 C570 530 620 535 655 505" fill="none" stroke="#f00" stroke-width="26.1" stroke-opacity="0.06" stroke-linecap="round" stroke-linejoin="round"/><path d="M545 500 C570 530 620 535 655 505" fill="none" stroke="#f00" stroke-width="18" stroke-opacity="0.07" stroke-linecap="round" stroke-linejoin="round"/><path d="M545 500 C570 530 620 535 655 505" fill="none" stroke="#f00" stroke-width="10.8" stroke-opacity="0.07" stroke-linecap="round" stroke-linejoin="round"/><ellipse cx="565" cy="426" rx="7" ry="6" fill="#f00" fill-opacity="0.3"/><ellipse cx="603" cy="426" rx="7" ry="6" fill="#f00" fill-opacity="0.3"/><ellipse cx="575" cy="477" rx="6" ry="7" fill="#f00" fill-opacity="0.34"/><ellipse cx="603" cy="473" rx="8" ry="5" fill="#f00" fill-opacity="0.28"/><ellipse cx="640" cy="500" rx="6" ry="10" fill="#f00" fill-opacity="0.2" transform="rotate(-30 640 500)"/></g><g opacity="0.8"><ellipse cx="630" cy="640" rx="72.9" ry="75.6" fill="url(#hg)" fill-opacity="0.22"/><ellipse cx="630" cy="640" rx="54" ry="56" fill="#f00" fill-opacity="0.07"/><ellipse cx="630" cy="640" rx="51.3" ry="53.2" fill="none" stroke="#f00" stroke-width="8.2" stroke-opacity="0.24"/><ellipse cx="630" cy="640" rx="33.48" ry="34.72" fill="none" stroke="#f00" stroke-width="8.2" stroke-opacity="0.23"/><ellipse cx="630" cy="640" rx="21.6" ry="22.4" fill="#f00" fill-opacity="0.22"/><ellipse cx="560" cy="578" rx="30" ry="26" fill="url(#hg)" fill-opacity="0.16"/></g><g opacity="0.74"><ellipse cx="330" cy="678" rx="103.6" ry="56" fill="url(#hg)" fill-opacity="0.22"/><ellipse cx="330" cy="678" rx="74" ry="40" fill="#f00" fill-opacity="0.07"/><ellipse cx="330" cy="678" rx="70.3" ry="38" fill="none" stroke="#f00" stroke-width="8.2" stroke-opacity="0.24"/><ellipse cx="330" cy="678" rx="45.88" ry="24.8" fill="none" stroke="#f00" stroke-width="8.2" stroke-opacity="0.21"/><ellipse cx="330" cy="678" rx="29.6" ry="16" fill="#f00" fill-opacity="0.18"/></g><g opacity="1"><ellipse cx="414" cy="588" rx="8" ry="8" fill="#f00" fill-opacity="0.4"/><ellipse cx="516" cy="554" rx="7" ry="7" fill="#f00" fill-opacity="0.4"/><ellipse cx="540" cy="556" rx="10" ry="10" fill="#f00" fill-opacity="0.3"/><ellipse cx="527" cy="532" rx="7" ry="7" fill="#f00" fill-opacity="0.35"/><ellipse cx="505" cy="584" rx="8" ry="8" fill="#f00" fill-opacity="0.3"/><ellipse cx="500" cy="600" rx="6" ry="6" fill="#f00" fill-opacity="0.3"/><ellipse cx="235" cy="575" rx="5" ry="5" fill="#f00" fill-opacity="0.35"/><ellipse cx="260" cy="435" rx="8" ry="8" fill="#f00" fill-opacity="0.35"/><ellipse cx="285" cy="610" rx="8" ry="8" fill="#f00" fill-opacity="0.3"/><ellipse cx="662" cy="322" rx="5" ry="5" fill="#f00" fill-opacity="0.4"/><ellipse cx="455" cy="108" rx="6" ry="6" fill="#f00" fill-opacity="0.3"/></g></g><g style="mix-blend-mode:screen"><ellipse cx="115.8" cy="562.6" rx="7.82" ry="9.35" fill="#0f0" fill-opacity="1"/><ellipse cx="156" cy="157" rx="2.59" ry="3.17" fill="#0f0" fill-opacity="0.9"/><ellipse cx="158" cy="175" rx="2.88" ry="3.52" fill="#0f0" fill-opacity="0.95"/><ellipse cx="169" cy="170" rx="2.45" ry="2.99" fill="#0f0" fill-opacity="0.9"/><ellipse cx="179" cy="209" rx="2.45" ry="2.99" fill="#0f0" fill-opacity="0.85"/><ellipse cx="214" cy="399" rx="3.74" ry="4.58" fill="#0f0" fill-opacity="1"/><ellipse cx="202.6" cy="386" rx="2.3" ry="2.82" fill="#0f0" fill-opacity="0.7"/><ellipse cx="57" cy="438" rx="3.02" ry="3.7" fill="#0f0" fill-opacity="0.95"/><ellipse cx="91" cy="339" rx="2.3" ry="2.82" fill="#0f0" fill-opacity="0.8"/><ellipse cx="522" cy="14.5" rx="3.02" ry="3.7" fill="#0f0" fill-opacity="0.95"/><ellipse cx="641.5" cy="173" rx="3.31" ry="4.05" fill="#0f0" fill-opacity="0.9"/><ellipse cx="639" cy="103" rx="2.59" ry="3.17" fill="#0f0" fill-opacity="0.8"/><ellipse cx="605" cy="129" rx="2.3" ry="2.82" fill="#0f0" fill-opacity="0.75"/><ellipse cx="633.7" cy="471.6" rx="3.6" ry="4.4" fill="#0f0" fill-opacity="1"/><ellipse cx="642" cy="482" rx="2.88" ry="3.52" fill="#0f0" fill-opacity="0.9"/><ellipse cx="608" cy="467" rx="2.59" ry="3.17" fill="#0f0" fill-opacity="0.85"/><ellipse cx="197" cy="542" rx="2.45" ry="2.99" fill="#0f0" fill-opacity="0.85"/></g></g><g filter="url(#db)"><g opacity="0.8"><circle cx="304.48" cy="381.73" r="2.64" fill="#a898ee" fill-opacity="0.64"/><circle cx="616.83" cy="318.38" r="2.72" fill="#a898ee" fill-opacity="0.56"/><circle cx="341.19" cy="400.31" r="2.7" fill="#a898ee" fill-opacity="0.56"/><circle cx="127.25" cy="349.51" r="2.66" fill="#a898ee" fill-opacity="0.41"/><circle cx="421.98" cy="538.67" r="3.2" fill="#a898ee" fill-opacity="0.7"/><circle cx="67.31" cy="209.19" r="3.04" fill="#a898ee" fill-opacity="0.58"/><circle cx="65.02" cy="549.89" r="2.52" fill="#a898ee" fill-opacity="0.39"/><circle cx="464.06" cy="33.19" r="2.49" fill="#a898ee" fill-opacity="0.33"/><circle cx="655.21" cy="654.28" r="2.97" fill="#a898ee" fill-opacity="0.46"/><circle cx="437.9" cy="419.27" r="3.05" fill="#a898ee" fill-opacity="0.45"/><circle cx="109.26" cy="15.1" r="3.16" fill="#a898ee" fill-opacity="0.64"/><circle cx="354.79" cy="45.08" r="2.2" fill="#a898ee" fill-opacity="0.38"/><circle cx="130.92" cy="167.83" r="3.11" fill="#a898ee" fill-opacity="0.49"/><circle cx="24.91" cy="317.23" r="3.18" fill="#a898ee" fill-opacity="0.46"/></g><circle cx="116" cy="549" r="3.36" fill="#e0703c" fill-opacity="1"/><circle cx="101" cy="407" r="3.36" fill="#c8806c" fill-opacity="1"/><circle cx="88" cy="412" r="3.14" fill="#b0a0e8" fill-opacity="1"/><circle cx="112" cy="292" r="3.36" fill="#d89858" fill-opacity="1"/><circle cx="93.5" cy="292" r="3.14" fill="#b0a0e8" fill-opacity="1"/><circle cx="597" cy="121" r="3.14" fill="#c8806c" fill-opacity="1"/><circle cx="563.6" cy="466.5" r="3.36" fill="#c8806c" fill-opacity="1"/><circle cx="221" cy="526" r="3.36" fill="#e05030" fill-opacity="1"/><circle cx="228.5" cy="536.6" r="3.36" fill="#e0703c" fill-opacity="1"/><circle cx="202.6" cy="565" r="3.14" fill="#70c090" fill-opacity="1"/><circle cx="163.6" cy="586" r="3.36" fill="#b0a0e8" fill-opacity="1"/><circle cx="161" cy="536.6" r="3.14" fill="#d89858" fill-opacity="1"/><circle cx="41.5" cy="518.4" r="3.14" fill="#b0a0e8" fill-opacity="1"/><circle cx="18" cy="510.6" r="2.91" fill="#e05030" fill-opacity="1"/><circle cx="592" cy="609.3" r="3.36" fill="#d89858" fill-opacity="1"/><circle cx="375" cy="227.5" r="3.36" fill="#70c090" fill-opacity="1"/><circle cx="111.6" cy="653.5" r="3.14" fill="#e0703c" fill-opacity="1"/><circle cx="20.7" cy="24.9" r="3.14" fill="#70c090" fill-opacity="1"/><circle cx="124.6" cy="6.7" r="3.36" fill="#c8806c" fill-opacity="1"/><circle cx="189.6" cy="344.4" r="3.14" fill="#70c090" fill-opacity="1"/><circle cx="163.6" cy="328.8" r="2.91" fill="#d89858" fill-opacity="1"/><circle cx="150.6" cy="391" r="3.14" fill="#b0a0e8" fill-opacity="1"/><circle cx="10" cy="230" r="3.14" fill="#70c090" fill-opacity="1"/><circle cx="111.6" cy="82" r="3.14" fill="#70c090" fill-opacity="1"/><circle cx="645" cy="150" r="3.36" fill="#b0a0e8" fill-opacity="1"/><circle cx="625" cy="160" r="3.14" fill="#70c090" fill-opacity="1"/><circle cx="215" cy="520" r="2.91" fill="#e05030" fill-opacity="1"/><circle cx="70" cy="450" r="3.14" fill="#e0703c" fill-opacity="1"/></g></g>
</g>
<rect x="1478.4" y="79.5" width="18.7" height="684.5" fill="url(#cb)"/>
<g transform="translate(16 875.4) scale(1.00030 1.00117)">
<g clip-path="url(#pc)"><g filter="url(#fmC)"><rect x="-40" y="-40" width="752" height="763" fill="#000"/><g transform="translate(5 7.5)"><g opacity="0.6"><ellipse cx="112" cy="0" rx="62" ry="34" fill="url(#hg)" fill-opacity="0.3"/><ellipse cx="116" cy="0" rx="34" ry="14" fill="#f00" fill-opacity="0.22"/><ellipse cx="92" cy="40" rx="30" ry="28" fill="url(#hg)" fill-opacity="0.2" transform="rotate(-30 92 40)"/></g><g opacity="0.28"><ellipse cx="40" cy="218" rx="52" ry="135.2" fill="url(#hg)" fill-opacity="0.22" transform="rotate(8 40 218)"/><ellipse cx="40" cy="218" rx="40" ry="104" fill="#f00" fill-opacity="0.07" transform="rotate(8 40 218)"/><ellipse cx="40" cy="218" rx="38" ry="98.8" fill="none" stroke="#f00" stroke-width="8.2" stroke-opacity="0.16" transform="rotate(8 40 218)"/><ellipse cx="40" cy="218" rx="24.8" ry="64.48" fill="none" stroke="#f00" stroke-width="8.2" stroke-opacity="0.13" transform="rotate(8 40 218)"/><path d="M64 200 C58 228 50 250 44 280" fill="none" stroke="#f00" stroke-width="9" stroke-opacity="0.26" stroke-linecap="round" stroke-linejoin="round"/><ellipse cx="22" cy="295" rx="18" ry="32" fill="url(#hg)" fill-opacity="0.2" transform="rotate(10 22 295)"/><ellipse cx="30" cy="150" rx="14" ry="24" fill="#f00" fill-opacity="0.12" transform="rotate(10 30 150)"/></g><g opacity="0.51"><ellipse cx="184" cy="182" rx="65.25" ry="69.6" fill="url(#hg)" fill-opacity="0.22"/><ellipse cx="184" cy="182" rx="45" ry="48" fill="#f00" fill-opacity="0.07"/><ellipse cx="184" cy="182" rx="42.75" ry="45.6" fill="none" stroke="#f00" stroke-width="8.2" stroke-opacity="0.27"/><ellipse cx="184" cy="182" rx="27.9" ry="29.76" fill="none" stroke="#f00" stroke-width="8.2" stroke-opacity="0.26"/><ellipse cx="184" cy="182" rx="18" ry="19.2" fill="#f00" fill-opacity="0.25"/><path d="M206 146 A44 44 0 0 1 216 216" fill="none" stroke="#f00" stroke-width="8" stroke-opacity="0.16" stroke-linecap="round" stroke-linejoin="round"/></g><g opacity="0.26"><path d="M228 158 C250 135 272 122 302 92" fill="none" stroke="#f00" stroke-width="37.7" stroke-opacity="0.09" stroke-linecap="round" stroke-linejoin="round"/><path d="M228 158 C250 135 272 122 302 92" fill="none" stroke="#f00" stroke-width="26" stroke-opacity="0.1" stroke-linecap="round" stroke-linejoin="round"/><path d="M228 158 C250 135 272 122 302 92" fill="none" stroke="#f00" stroke-width="15.6" stroke-opacity="0.1" stroke-linecap="round" stroke-linejoin="round"/><ellipse cx="264" cy="124" rx="32" ry="24" fill="url(#hg)" fill-opacity="0.2" transform="rotate(-35 264 124)"/></g><g opacity="0.44"><ellipse cx="396" cy="220" rx="65.25" ry="66.7" fill="url(#hg)" fill-opacity="0.22"/><ellipse cx="396" cy="220" rx="45" ry="46" fill="#f00" fill-opacity="0.07"/><ellipse cx="396" cy="220" rx="42.75" ry="43.7" fill="none" stroke="#f00" stroke-width="8.2" stroke-opacity="0.3"/><ellipse cx="396" cy="220" rx="27.9" ry="28.52" fill="none" stroke="#f00" stroke-width="8.2" stroke-opacity="0.26"/><ellipse cx="396" cy="220" rx="18" ry="18.4" fill="#f00" fill-opacity="0.25"/><ellipse cx="356" cy="196" rx="26" ry="24" fill="url(#hg)" fill-opacity="0.3"/><path d="M426 190 A40 40 0 0 1 426 254" fill="none" stroke="#f00" stroke-width="7" stroke-opacity="0.14" stroke-linecap="round" stroke-linejoin="round"/></g><g opacity="0.26"><path d="M282 188 C302 198 330 200 356 200" fill="none" stroke="#f00" stroke-width="43.5" stroke-opacity="0.08" stroke-linecap="round" stroke-linejoin="round"/><path d="M282 188 C302 198 330 200 356 200" fill="none" stroke="#f00" stroke-width="30" stroke-opacity="0.1" stroke-linecap="round" stroke-linejoin="round"/><path d="M282 188 C302 198 330 200 356 200" fill="none" stroke="#f00" stroke-width="18" stroke-opacity="0.1" stroke-linecap="round" stroke-linejoin="round"/></g><g opacity="0.3"><path d="M438 226 C470 205 490 184 525 176 S560 160 582 148" fill="none" stroke="#f00" stroke-width="17.4" stroke-opacity="0.13" stroke-linecap="round" stroke-linejoin="round"/><path d="M438 226 C470 205 490 184 525 176 S560 160 582 148" fill="none" stroke="#f00" stroke-width="12" stroke-opacity="0.14" stroke-linecap="round" stroke-linejoin="round"/><path d="M438 226 C470 205 490 184 525 176 S560 160 582 148" fill="none" stroke="#f00" stroke-width="7.2" stroke-opacity="0.14" stroke-linecap="round" stroke-linejoin="round"/></g><g opacity="0.3"><ellipse cx="625" cy="135" rx="62" ry="52" fill="url(#hg)" fill-opacity="0.28"/><ellipse cx="618" cy="130" rx="38" ry="28" fill="#f00" fill-opacity="0.12" transform="rotate(-20 618 130)"/><ellipse cx="650" cy="110" rx="20" ry="24" fill="#f00" fill-opacity="0.16"/><path d="M585 136 C600 118 625 112 646 120" fill="none" stroke="#f00" stroke-width="7" stroke-opacity="0.18" stroke-linecap="round" stroke-linejoin="round"/><path d="M592 160 C612 150 630 156 648 150" fill="none" stroke="#f00" stroke-width="7" stroke-opacity="0.14" stroke-linecap="round" stroke-linejoin="round"/><ellipse cx="600" cy="168" rx="26" ry="18" fill="url(#hg)" fill-opacity="0.2"/></g><g opacity="0.37"><ellipse cx="574" cy="36" rx="106.4" ry="56" fill="url(#hg)" fill-opacity="0.22" transform="rotate(-5 574 36)"/><ellipse cx="574" cy="36" rx="76" ry="40" fill="#f00" fill-opacity="0.07" transform="rotate(-5 574 36)"/><ellipse cx="574" cy="36" rx="72.2" ry="38" fill="none" stroke="#f00" stroke-width="8.2" stroke-opacity="0.3" transform="rotate(-5 574 36)"/><ellipse cx="574" cy="36" rx="47.12" ry="24.8" fill="none" stroke="#f00" stroke-width="8.2" stroke-opacity="0.26" transform="rotate(-5 574 36)"/><ellipse cx="574" cy="36" rx="30.4" ry="16" fill="#f00" fill-opacity="0.22" transform="rotate(-5 574 36)"/><ellipse cx="505" cy="52" rx="36" ry="34" fill="url(#hg)" fill-opacity="0.22"/><ellipse cx="652" cy="78" rx="34" ry="32" fill="url(#hg)" fill-opacity="0.2"/></g><g opacity="0.49"><ellipse cx="262" cy="372" rx="106.4" ry="72.8" fill="url(#hg)" fill-opacity="0.22" transform="rotate(-38 262 372)"/><ellipse cx="262" cy="372" rx="76" ry="52" fill="#f00" fill-opacity="0.07" transform="rotate(-38 262 372)"/><ellipse cx="262" cy="372" rx="72.2" ry="49.4" fill="none" stroke="#f00" stroke-width="8.2" stroke-opacity="0.27" transform="rotate(-38 262 372)"/><ellipse cx="262" cy="372" rx="47.12" ry="32.24" fill="none" stroke="#f00" stroke-width="8.2" stroke-opacity="0.26" transform="rotate(-38 262 372)"/><ellipse cx="262" cy="372" rx="31.92" ry="21.84" fill="#f00" fill-opacity="0.28" transform="rotate(-38 262 372)"/><ellipse cx="270" cy="366" rx="34" ry="22" fill="#f00" fill-opacity="0.1" transform="rotate(-38 270 366)"/></g><g opacity="0.3"><path d="M232 300 C270 272 320 276 350 300 S380 345 390 365" fill="none" stroke="#f00" stroke-width="31.9" stroke-opacity="0.09" stroke-linecap="round" stroke-linejoin="round"/><path d="M232 300 C270 272 320 276 350 300 S380 345 390 365" fill="none" stroke="#f00" stroke-width="22" stroke-opacity="0.1" stroke-linecap="round" stroke-linejoin="round"/><path d="M232 300 C270 272 320 276 350 300 S380 345 390 365" fill="none" stroke="#f00" stroke-width="13.2" stroke-opacity="0.1" stroke-linecap="round" stroke-linejoin="round"/></g><g opacity="0.32"><path d="M372 350 C390 390 420 440 445 480 S470 530 478 560" fill="none" stroke="#f00" stroke-width="63.8" stroke-opacity="0.08" stroke-linecap="round" stroke-linejoin="round"/><path d="M372 350 C390 390 420 440 445 480 S470 530 478 560" fill="none" stroke="#f00" stroke-width="44" stroke-opacity="0.1" stroke-linecap="round" stroke-linejoin="round"/><path d="M372 350 C390 390 420 440 445 480 S470 530 478 560" fill="none" stroke="#f00" stroke-width="26.4" stroke-opacity="0.1" stroke-linecap="round" stroke-linejoin="round"/><path d="M356 366 C373 420 406 472 436 522" fill="none" stroke="#f00" stroke-width="7" stroke-opacity="0.32" stroke-linecap="round" stroke-linejoin="round"/><path d="M398 344 C422 392 462 450 494 524" fill="none" stroke="#f00" stroke-width="7" stroke-opacity="0.3" stroke-linecap="round" stroke-linejoin="round"/><ellipse cx="440" cy="470" rx="10" ry="22" fill="#f00" fill-opacity="0.12" transform="rotate(-32 440 470)"/></g><g opacity="0.35"><ellipse cx="70" cy="440" rx="72.5" ry="81.2" fill="url(#hg)" fill-opacity="0.22" transform="rotate(-15 70 440)"/><ellipse cx="70" cy="440" rx="50" ry="56" fill="#f00" fill-opacity="0.07" transform="rotate(-15 70 440)"/><ellipse cx="70" cy="440" rx="47.5" ry="53.2" fill="none" stroke="#f00" stroke-width="8.2" stroke-opacity="0.14" transform="rotate(-15 70 440)"/><ellipse cx="70" cy="440" rx="31" ry="34.72" fill="none" stroke="#f00" stroke-width="8.2" stroke-opacity="0.18" transform="rotate(-15 70 440)"/><ellipse cx="70" cy="440" rx="22.5" ry="25.2" fill="#f00" fill-opacity="0.25" transform="rotate(-15 70 440)"/><ellipse cx="102" cy="398" rx="34" ry="24" fill="url(#hg)" fill-opacity="0.2" transform="rotate(-30 102 398)"/><ellipse cx="90" cy="440" rx="11" ry="22" fill="#f00" fill-opacity="0.2" transform="rotate(10 90 440)"/><ellipse cx="55" cy="428" rx="16" ry="12" fill="#f00" fill-opacity="0.2"/></g><g opacity="0.46"><ellipse cx="254" cy="502" rx="72.8" ry="58.8" fill="url(#hg)" fill-opacity="0.22" transform="rotate(-10 254 502)"/><ellipse cx="254" cy="502" rx="52" ry="42" fill="#f00" fill-opacity="0.07" transform="rotate(-10 254 502)"/><ellipse cx="254" cy="502" rx="49.4" ry="39.9" fill="none" stroke="#f00" stroke-width="8.2" stroke-opacity="0.3" transform="rotate(-10 254 502)"/><ellipse cx="254" cy="502" rx="32.24" ry="26.04" fill="none" stroke="#f00" stroke-width="8.2" stroke-opacity="0.26" transform="rotate(-10 254 502)"/><ellipse cx="254" cy="502" rx="23.4" ry="18.9" fill="#f00" fill-opacity="0.3" transform="rotate(-10 254 502)"/><path d="M186 470 C176 510 176 550 186 590" fill="none" stroke="#f00" stroke-width="40.6" stroke-opacity="0.08" stroke-linecap="round" stroke-linejoin="round"/><path d="M186 470 C176 510 176 550 186 590" fill="none" stroke="#f00" stroke-width="28" stroke-opacity="0.1" stroke-linecap="round" stroke-linejoin="round"/><path d="M186 470 C176 510 176 550 186 590" fill="none" stroke="#f00" stroke-width="16.8" stroke-opacity="0.1" stroke-linecap="round" stroke-linejoin="round"/><ellipse cx="192" cy="455" rx="12" ry="14" fill="#f00" fill-opacity="0.24"/></g><g opacity="0.32"><ellipse cx="598" cy="466" rx="78" ry="82" fill="url(#hg)" fill-opacity="0.22" transform="rotate(-20 598 466)"/><ellipse cx="590" cy="452" rx="40" ry="40" fill="#f00" fill-opacity="0.1"/><ellipse cx="588" cy="450" rx="34" ry="34" fill="none" stroke="#f00" stroke-width="7" stroke-opacity="0.24"/><ellipse cx="588" cy="452" rx="18" ry="18" fill="none" stroke="#f00" stroke-width="6" stroke-opacity="0.12"/><path d="M556 440 C568 414 606 410 624 442" fill="none" stroke="#f00" stroke-width="8" stroke-opacity="0.2" stroke-linecap="round" stroke-linejoin="round"/><path d="M560 480 H640" fill="none" stroke="#f00" stroke-width="7" stroke-opacity="0.2" stroke-linecap="round" stroke-linejoin="round"/><path d="M545 500 C570 530 620 535 655 505" fill="none" stroke="#f00" stroke-width="26.1" stroke-opacity="0.06" stroke-linecap="round" stroke-linejoin="round"/><path d="M545 500 C570 530 620 535 655 505" fill="none" stroke="#f00" stroke-width="18" stroke-opacity="0.07" stroke-linecap="round" stroke-linejoin="round"/><path d="M545 500 C570 530 620 535 655 505" fill="none" stroke="#f00" stroke-width="10.8" stroke-opacity="0.07" stroke-linecap="round" stroke-linejoin="round"/><ellipse cx="565" cy="426" rx="7" ry="6" fill="#f00" fill-opacity="0.3"/><ellipse cx="603" cy="426" rx="7" ry="6" fill="#f00" fill-opacity="0.3"/><ellipse cx="575" cy="477" rx="6" ry="7" fill="#f00" fill-opacity="0.34"/><ellipse cx="603" cy="473" rx="8" ry="5" fill="#f00" fill-opacity="0.28"/><ellipse cx="640" cy="500" rx="6" ry="10" fill="#f00" fill-opacity="0.2" transform="rotate(-30 640 500)"/></g><g opacity="0.32"><ellipse cx="630" cy="640" rx="72.9" ry="75.6" fill="url(#hg)" fill-opacity="0.22"/><ellipse cx="630" cy="640" rx="54" ry="56" fill="#f00" fill-opacity="0.07"/><ellipse cx="630" cy="640" rx="51.3" ry="53.2" fill="none" stroke="#f00" stroke-width="8.2" stroke-opacity="0.24"/><ellipse cx="630" cy="640" rx="33.48" ry="34.72" fill="none" stroke="#f00" stroke-width="8.2" stroke-opacity="0.23"/><ellipse cx="630" cy="640" rx="21.6" ry="22.4" fill="#f00" fill-opacity="0.22"/><ellipse cx="560" cy="578" rx="30" ry="26" fill="url(#hg)" fill-opacity="0.16"/></g><g opacity="0.26"><ellipse cx="330" cy="678" rx="103.6" ry="56" fill="url(#hg)" fill-opacity="0.22"/><ellipse cx="330" cy="678" rx="74" ry="40" fill="#f00" fill-opacity="0.07"/><ellipse cx="330" cy="678" rx="70.3" ry="38" fill="none" stroke="#f00" stroke-width="8.2" stroke-opacity="0.24"/><ellipse cx="330" cy="678" rx="45.88" ry="24.8" fill="none" stroke="#f00" stroke-width="8.2" stroke-opacity="0.21"/><ellipse cx="330" cy="678" rx="29.6" ry="16" fill="#f00" fill-opacity="0.18"/></g><g opacity="0.19"><ellipse cx="414" cy="588" rx="8" ry="8" fill="#f00" fill-opacity="0.4"/><ellipse cx="516" cy="554" rx="7" ry="7" fill="#f00" fill-opacity="0.4"/><ellipse cx="540" cy="556" rx="10" ry="10" fill="#f00" fill-opacity="0.3"/><ellipse cx="527" cy="532" rx="7" ry="7" fill="#f00" fill-opacity="0.35"/><ellipse cx="505" cy="584" rx="8" ry="8" fill="#f00" fill-opacity="0.3"/><ellipse cx="500" cy="600" rx="6" ry="6" fill="#f00" fill-opacity="0.3"/><ellipse cx="235" cy="575" rx="5" ry="5" fill="#f00" fill-opacity="0.35"/><ellipse cx="260" cy="435" rx="8" ry="8" fill="#f00" fill-opacity="0.35"/><ellipse cx="285" cy="610" rx="8" ry="8" fill="#f00" fill-opacity="0.3"/><ellipse cx="662" cy="322" rx="5" ry="5" fill="#f00" fill-opacity="0.4"/><ellipse cx="455" cy="108" rx="6" ry="6" fill="#f00" fill-opacity="0.3"/></g></g><g style="mix-blend-mode:screen"><ellipse cx="119" cy="568.7" rx="7.82" ry="9.35" fill="#0f0" fill-opacity="1"/><ellipse cx="220" cy="405" rx="3.89" ry="4.75" fill="#0f0" fill-opacity="1"/><ellipse cx="63" cy="444" rx="2.59" ry="3.17" fill="#0f0" fill-opacity="0.8"/><ellipse cx="166" cy="187" rx="2.45" ry="2.99" fill="#0f0" fill-opacity="0.8"/><ellipse cx="186.6" cy="220.7" rx="2.16" ry="2.64" fill="#0f0" fill-opacity="0.7"/><ellipse cx="529.5" cy="28.5" rx="2.74" ry="3.34" fill="#0f0" fill-opacity="0.85"/><ellipse cx="649" cy="114" rx="2.74" ry="3.34" fill="#0f0" fill-opacity="0.85"/><ellipse cx="648" cy="189.5" rx="2.59" ry="3.17" fill="#0f0" fill-opacity="0.8"/><ellipse cx="617.8" cy="485.6" rx="2.3" ry="2.82" fill="#0f0" fill-opacity="0.8"/><ellipse cx="639.6" cy="482" rx="2.3" ry="2.82" fill="#0f0" fill-opacity="0.75"/><ellipse cx="121.7" cy="7.7" rx="2.16" ry="2.64" fill="#0f0" fill-opacity="0.75"/><ellipse cx="230.8" cy="540" rx="2.59" ry="3.17" fill="#0f0" fill-opacity="0.55"/><ellipse cx="191.8" cy="352" rx="2.02" ry="2.46" fill="#0f0" fill-opacity="0.7"/></g></g><g filter="url(#db)"><g opacity="0.8"><circle cx="617.26" cy="643.41" r="2.77" fill="#a898ee" fill-opacity="0.56"/><circle cx="595.79" cy="61.23" r="2.51" fill="#a898ee" fill-opacity="0.33"/><circle cx="396.92" cy="290.18" r="2.67" fill="#a898ee" fill-opacity="0.59"/><circle cx="355.92" cy="92.69" r="2.79" fill="#a898ee" fill-opacity="0.48"/><circle cx="132.1" cy="304.2" r="2.84" fill="#a898ee" fill-opacity="0.37"/><circle cx="151.33" cy="311.24" r="2.38" fill="#a898ee" fill-opacity="0.43"/><circle cx="21.4" cy="62.73" r="3.02" fill="#a898ee" fill-opacity="0.38"/><circle cx="475.03" cy="288.5" r="2.31" fill="#a898ee" fill-opacity="0.34"/><circle cx="344.36" cy="499.12" r="2.24" fill="#a898ee" fill-opacity="0.41"/><circle cx="242.66" cy="43.73" r="2.77" fill="#a898ee" fill-opacity="0.63"/><circle cx="523.41" cy="401.48" r="2.53" fill="#a898ee" fill-opacity="0.45"/><circle cx="440.54" cy="422.93" r="2.49" fill="#a898ee" fill-opacity="0.42"/><circle cx="647.63" cy="249.16" r="2.98" fill="#a898ee" fill-opacity="0.52"/><circle cx="507.98" cy="253.12" r="2.46" fill="#a898ee" fill-opacity="0.34"/></g><circle cx="537" cy="482" r="3.14" fill="#a6a2f2" fill-opacity="1"/><circle cx="381" cy="240" r="3.14" fill="#a6a2f2" fill-opacity="1"/><circle cx="170" cy="341.7" r="3.14" fill="#d2b27c" fill-opacity="1"/><circle cx="98.3" cy="355.8" r="3.14" fill="#d2b27c" fill-opacity="1"/><circle cx="113.9" cy="93.4" r="3.14" fill="#d2b27c" fill-opacity="1"/><circle cx="178.8" cy="94.5" r="2.91" fill="#b4aef4" fill-opacity="1"/><circle cx="150" cy="61" r="2.91" fill="#8fa8f0" fill-opacity="0.95"/><circle cx="243.7" cy="74" r="2.91" fill="#d2b27c" fill-opacity="0.95"/><circle cx="29.7" cy="33.7" r="3.14" fill="#d2b27c" fill-opacity="1"/><circle cx="106" cy="112.6" r="3.14" fill="#8fa8f0" fill-opacity="1"/><circle cx="97" cy="138.6" r="2.91" fill="#b4aef4" fill-opacity="1"/><circle cx="114" cy="304" r="2.91" fill="#a6a2f2" fill-opacity="0.95"/><circle cx="96" cy="304" r="2.91" fill="#c89a84" fill-opacity="1"/><circle cx="155" cy="397" r="2.91" fill="#a6a2f2" fill-opacity="0.95"/><circle cx="46" cy="530" r="2.91" fill="#c89a84" fill-opacity="1"/><circle cx="41" cy="546" r="2.91" fill="#a6a2f2" fill-opacity="1"/><circle cx="85" cy="551.6" r="2.91" fill="#b4aef4" fill-opacity="1"/><circle cx="168" cy="548" r="2.91" fill="#a6a2f2" fill-opacity="1"/><circle cx="210" cy="576.5" r="2.91" fill="#a6a2f2" fill-opacity="1"/><circle cx="170" cy="601" r="2.91" fill="#d2b27c" fill-opacity="1"/><circle cx="116.5" cy="665" r="2.91" fill="#a6a2f2" fill-opacity="0.95"/><circle cx="4.8" cy="654.5" r="3.14" fill="#a6a2f2" fill-opacity="1"/><circle cx="448" cy="606.7" r="2.69" fill="#c89a84" fill-opacity="0.85"/><circle cx="363" cy="448" r="2.69" fill="#a6a2f2" fill-opacity="0.76"/><circle cx="420" cy="402.5" r="2.69" fill="#d2b27c" fill-opacity="0.76"/><circle cx="597" cy="121" r="2.91" fill="#b4aef4" fill-opacity="0.95"/><circle cx="612" cy="130" r="2.69" fill="#a6a2f2" fill-opacity="0.85"/><circle cx="626" cy="140" r="2.69" fill="#d2b27c" fill-opacity="0.85"/></g></g>
</g>
<rect x="695.6" y="875.3" width="18.7" height="684.4" fill="url(#cb)"/>
<g transform="translate(799 875.4) scale(0.99911 1.00146)">
<g clip-path="url(#pc)"><g filter="url(#fmD)"><rect x="-40" y="-40" width="752" height="763" fill="#000"/><g transform="translate(2 3)"><g opacity="0.45"><ellipse cx="112" cy="0" rx="62" ry="34" fill="url(#hg)" fill-opacity="0.3"/><ellipse cx="116" cy="0" rx="34" ry="14" fill="#f00" fill-opacity="0.22"/><ellipse cx="92" cy="40" rx="30" ry="28" fill="url(#hg)" fill-opacity="0.2" transform="rotate(-30 92 40)"/></g><g opacity="0.26"><ellipse cx="40" cy="218" rx="52" ry="135.2" fill="url(#hg)" fill-opacity="0.22" transform="rotate(8 40 218)"/><ellipse cx="40" cy="218" rx="40" ry="104" fill="#f00" fill-opacity="0.07" transform="rotate(8 40 218)"/><ellipse cx="40" cy="218" rx="38" ry="98.8" fill="none" stroke="#f00" stroke-width="8.2" stroke-opacity="0.16" transform="rotate(8 40 218)"/><ellipse cx="40" cy="218" rx="24.8" ry="64.48" fill="none" stroke="#f00" stroke-width="8.2" stroke-opacity="0.13" transform="rotate(8 40 218)"/><path d="M64 200 C58 228 50 250 44 280" fill="none" stroke="#f00" stroke-width="9" stroke-opacity="0.26" stroke-linecap="round" stroke-linejoin="round"/><ellipse cx="22" cy="295" rx="18" ry="32" fill="url(#hg)" fill-opacity="0.2" transform="rotate(10 22 295)"/><ellipse cx="30" cy="150" rx="14" ry="24" fill="#f00" fill-opacity="0.12" transform="rotate(10 30 150)"/></g><g opacity="0.46"><ellipse cx="184" cy="182" rx="65.25" ry="69.6" fill="url(#hg)" fill-opacity="0.22"/><ellipse cx="184" cy="182" rx="45" ry="48" fill="#f00" fill-opacity="0.07"/><ellipse cx="184" cy="182" rx="42.75" ry="45.6" fill="none" stroke="#f00" stroke-width="8.2" stroke-opacity="0.27"/><ellipse cx="184" cy="182" rx="27.9" ry="29.76" fill="none" stroke="#f00" stroke-width="8.2" stroke-opacity="0.26"/><ellipse cx="184" cy="182" rx="18" ry="19.2" fill="#f00" fill-opacity="0.25"/><path d="M206 146 A44 44 0 0 1 216 216" fill="none" stroke="#f00" stroke-width="8" stroke-opacity="0.16" stroke-linecap="round" stroke-linejoin="round"/></g><g opacity="0.25"><path d="M228 158 C250 135 272 122 302 92" fill="none" stroke="#f00" stroke-width="37.7" stroke-opacity="0.09" stroke-linecap="round" stroke-linejoin="round"/><path d="M228 158 C250 135 272 122 302 92" fill="none" stroke="#f00" stroke-width="26" stroke-opacity="0.1" stroke-linecap="round" stroke-linejoin="round"/><path d="M228 158 C250 135 272 122 302 92" fill="none" stroke="#f00" stroke-width="15.6" stroke-opacity="0.1" stroke-linecap="round" stroke-linejoin="round"/><ellipse cx="264" cy="124" rx="32" ry="24" fill="url(#hg)" fill-opacity="0.2" transform="rotate(-35 264 124)"/></g><g opacity="0.41"><ellipse cx="396" cy="220" rx="65.25" ry="66.7" fill="url(#hg)" fill-opacity="0.22"/><ellipse cx="396" cy="220" rx="45" ry="46" fill="#f00" fill-opacity="0.07"/><ellipse cx="396" cy="220" rx="42.75" ry="43.7" fill="none" stroke="#f00" stroke-width="8.2" stroke-opacity="0.3"/><ellipse cx="396" cy="220" rx="27.9" ry="28.52" fill="none" stroke="#f00" stroke-width="8.2" stroke-opacity="0.26"/><ellipse cx="396" cy="220" rx="18" ry="18.4" fill="#f00" fill-opacity="0.25"/><ellipse cx="356" cy="196" rx="26" ry="24" fill="url(#hg)" fill-opacity="0.3"/><path d="M426 190 A40 40 0 0 1 426 254" fill="none" stroke="#f00" stroke-width="7" stroke-opacity="0.14" stroke-linecap="round" stroke-linejoin="round"/></g><g opacity="0.25"><path d="M282 188 C302 198 330 200 356 200" fill="none" stroke="#f00" stroke-width="43.5" stroke-opacity="0.08" stroke-linecap="round" stroke-linejoin="round"/><path d="M282 188 C302 198 330 200 356 200" fill="none" stroke="#f00" stroke-width="30" stroke-opacity="0.1" stroke-linecap="round" stroke-linejoin="round"/><path d="M282 188 C302 198 330 200 356 200" fill="none" stroke="#f00" stroke-width="18" stroke-opacity="0.1" stroke-linecap="round" stroke-linejoin="round"/></g><g opacity="0.25"><path d="M438 226 C470 205 490 184 525 176 S560 160 582 148" fill="none" stroke="#f00" stroke-width="17.4" stroke-opacity="0.13" stroke-linecap="round" stroke-linejoin="round"/><path d="M438 226 C470 205 490 184 525 176 S560 160 582 148" fill="none" stroke="#f00" stroke-width="12" stroke-opacity="0.14" stroke-linecap="round" stroke-linejoin="round"/><path d="M438 226 C470 205 490 184 525 176 S560 160 582 148" fill="none" stroke="#f00" stroke-width="7.2" stroke-opacity="0.14" stroke-linecap="round" stroke-linejoin="round"/></g><g opacity="0.26"><ellipse cx="625" cy="135" rx="62" ry="52" fill="url(#hg)" fill-opacity="0.28"/><ellipse cx="618" cy="130" rx="38" ry="28" fill="#f00" fill-opacity="0.12" transform="rotate(-20 618 130)"/><ellipse cx="650" cy="110" rx="20" ry="24" fill="#f00" fill-opacity="0.16"/><path d="M585 136 C600 118 625 112 646 120" fill="none" stroke="#f00" stroke-width="7" stroke-opacity="0.18" stroke-linecap="round" stroke-linejoin="round"/><path d="M592 160 C612 150 630 156 648 150" fill="none" stroke="#f00" stroke-width="7" stroke-opacity="0.14" stroke-linecap="round" stroke-linejoin="round"/><ellipse cx="600" cy="168" rx="26" ry="18" fill="url(#hg)" fill-opacity="0.2"/></g><g opacity="0.32"><ellipse cx="574" cy="36" rx="106.4" ry="56" fill="url(#hg)" fill-opacity="0.22" transform="rotate(-5 574 36)"/><ellipse cx="574" cy="36" rx="76" ry="40" fill="#f00" fill-opacity="0.07" transform="rotate(-5 574 36)"/><ellipse cx="574" cy="36" rx="72.2" ry="38" fill="none" stroke="#f00" stroke-width="8.2" stroke-opacity="0.3" transform="rotate(-5 574 36)"/><ellipse cx="574" cy="36" rx="47.12" ry="24.8" fill="none" stroke="#f00" stroke-width="8.2" stroke-opacity="0.26" transform="rotate(-5 574 36)"/><ellipse cx="574" cy="36" rx="30.4" ry="16" fill="#f00" fill-opacity="0.22" transform="rotate(-5 574 36)"/><ellipse cx="505" cy="52" rx="36" ry="34" fill="url(#hg)" fill-opacity="0.22"/><ellipse cx="652" cy="78" rx="34" ry="32" fill="url(#hg)" fill-opacity="0.2"/></g><g opacity="0.42"><ellipse cx="262" cy="372" rx="106.4" ry="72.8" fill="url(#hg)" fill-opacity="0.22" transform="rotate(-38 262 372)"/><ellipse cx="262" cy="372" rx="76" ry="52" fill="#f00" fill-opacity="0.07" transform="rotate(-38 262 372)"/><ellipse cx="262" cy="372" rx="72.2" ry="49.4" fill="none" stroke="#f00" stroke-width="8.2" stroke-opacity="0.27" transform="rotate(-38 262 372)"/><ellipse cx="262" cy="372" rx="47.12" ry="32.24" fill="none" stroke="#f00" stroke-width="8.2" stroke-opacity="0.26" transform="rotate(-38 262 372)"/><ellipse cx="262" cy="372" rx="31.92" ry="21.84" fill="#f00" fill-opacity="0.28" transform="rotate(-38 262 372)"/><ellipse cx="270" cy="366" rx="34" ry="22" fill="#f00" fill-opacity="0.1" transform="rotate(-38 270 366)"/></g><g opacity="0.26"><path d="M232 300 C270 272 320 276 350 300 S380 345 390 365" fill="none" stroke="#f00" stroke-width="31.9" stroke-opacity="0.09" stroke-linecap="round" stroke-linejoin="round"/><path d="M232 300 C270 272 320 276 350 300 S380 345 390 365" fill="none" stroke="#f00" stroke-width="22" stroke-opacity="0.1" stroke-linecap="round" stroke-linejoin="round"/><path d="M232 300 C270 272 320 276 350 300 S380 345 390 365" fill="none" stroke="#f00" stroke-width="13.2" stroke-opacity="0.1" stroke-linecap="round" stroke-linejoin="round"/></g><g opacity="0.29"><path d="M372 350 C390 390 420 440 445 480 S470 530 478 560" fill="none" stroke="#f00" stroke-width="63.8" stroke-opacity="0.08" stroke-linecap="round" stroke-linejoin="round"/><path d="M372 350 C390 390 420 440 445 480 S470 530 478 560" fill="none" stroke="#f00" stroke-width="44" stroke-opacity="0.1" stroke-linecap="round" stroke-linejoin="round"/><path d="M372 350 C390 390 420 440 445 480 S470 530 478 560" fill="none" stroke="#f00" stroke-width="26.4" stroke-opacity="0.1" stroke-linecap="round" stroke-linejoin="round"/><path d="M356 366 C373 420 406 472 436 522" fill="none" stroke="#f00" stroke-width="7" stroke-opacity="0.32" stroke-linecap="round" stroke-linejoin="round"/><path d="M398 344 C422 392 462 450 494 524" fill="none" stroke="#f00" stroke-width="7" stroke-opacity="0.3" stroke-linecap="round" stroke-linejoin="round"/><ellipse cx="440" cy="470" rx="10" ry="22" fill="#f00" fill-opacity="0.12" transform="rotate(-32 440 470)"/></g><g opacity="0.33"><ellipse cx="70" cy="440" rx="72.5" ry="81.2" fill="url(#hg)" fill-opacity="0.22" transform="rotate(-15 70 440)"/><ellipse cx="70" cy="440" rx="50" ry="56" fill="#f00" fill-opacity="0.07" transform="rotate(-15 70 440)"/><ellipse cx="70" cy="440" rx="47.5" ry="53.2" fill="none" stroke="#f00" stroke-width="8.2" stroke-opacity="0.14" transform="rotate(-15 70 440)"/><ellipse cx="70" cy="440" rx="31" ry="34.72" fill="none" stroke="#f00" stroke-width="8.2" stroke-opacity="0.18" transform="rotate(-15 70 440)"/><ellipse cx="70" cy="440" rx="22.5" ry="25.2" fill="#f00" fill-opacity="0.25" transform="rotate(-15 70 440)"/><ellipse cx="102" cy="398" rx="34" ry="24" fill="url(#hg)" fill-opacity="0.2" transform="rotate(-30 102 398)"/><ellipse cx="90" cy="440" rx="11" ry="22" fill="#f00" fill-opacity="0.2" transform="rotate(10 90 440)"/><ellipse cx="55" cy="428" rx="16" ry="12" fill="#f00" fill-opacity="0.2"/></g><g opacity="0.41"><ellipse cx="254" cy="502" rx="72.8" ry="58.8" fill="url(#hg)" fill-opacity="0.22" transform="rotate(-10 254 502)"/><ellipse cx="254" cy="502" rx="52" ry="42" fill="#f00" fill-opacity="0.07" transform="rotate(-10 254 502)"/><ellipse cx="254" cy="502" rx="49.4" ry="39.9" fill="none" stroke="#f00" stroke-width="8.2" stroke-opacity="0.3" transform="rotate(-10 254 502)"/><ellipse cx="254" cy="502" rx="32.24" ry="26.04" fill="none" stroke="#f00" stroke-width="8.2" stroke-opacity="0.26" transform="rotate(-10 254 502)"/><ellipse cx="254" cy="502" rx="23.4" ry="18.9" fill="#f00" fill-opacity="0.3" transform="rotate(-10 254 502)"/><path d="M186 470 C176 510 176 550 186 590" fill="none" stroke="#f00" stroke-width="40.6" stroke-opacity="0.08" stroke-linecap="round" stroke-linejoin="round"/><path d="M186 470 C176 510 176 550 186 590" fill="none" stroke="#f00" stroke-width="28" stroke-opacity="0.1" stroke-linecap="round" stroke-linejoin="round"/><path d="M186 470 C176 510 176 550 186 590" fill="none" stroke="#f00" stroke-width="16.8" stroke-opacity="0.1" stroke-linecap="round" stroke-linejoin="round"/><ellipse cx="192" cy="455" rx="12" ry="14" fill="#f00" fill-opacity="0.24"/></g><g opacity="0.3"><ellipse cx="598" cy="466" rx="78" ry="82" fill="url(#hg)" fill-opacity="0.22" transform="rotate(-20 598 466)"/><ellipse cx="590" cy="452" rx="40" ry="40" fill="#f00" fill-opacity="0.1"/><ellipse cx="588" cy="450" rx="34" ry="34" fill="none" stroke="#f00" stroke-width="7" stroke-opacity="0.24"/><ellipse cx="588" cy="452" rx="18" ry="18" fill="none" stroke="#f00" stroke-width="6" stroke-opacity="0.12"/><path d="M556 440 C568 414 606 410 624 442" fill="none" stroke="#f00" stroke-width="8" stroke-opacity="0.2" stroke-linecap="round" stroke-linejoin="round"/><path d="M560 480 H640" fill="none" stroke="#f00" stroke-width="7" stroke-opacity="0.2" stroke-linecap="round" stroke-linejoin="round"/><path d="M545 500 C570 530 620 535 655 505" fill="none" stroke="#f00" stroke-width="26.1" stroke-opacity="0.06" stroke-linecap="round" stroke-linejoin="round"/><path d="M545 500 C570 530 620 535 655 505" fill="none" stroke="#f00" stroke-width="18" stroke-opacity="0.07" stroke-linecap="round" stroke-linejoin="round"/><path d="M545 500 C570 530 620 535 655 505" fill="none" stroke="#f00" stroke-width="10.8" stroke-opacity="0.07" stroke-linecap="round" stroke-linejoin="round"/><ellipse cx="565" cy="426" rx="7" ry="6" fill="#f00" fill-opacity="0.3"/><ellipse cx="603" cy="426" rx="7" ry="6" fill="#f00" fill-opacity="0.3"/><ellipse cx="575" cy="477" rx="6" ry="7" fill="#f00" fill-opacity="0.34"/><ellipse cx="603" cy="473" rx="8" ry="5" fill="#f00" fill-opacity="0.28"/><ellipse cx="640" cy="500" rx="6" ry="10" fill="#f00" fill-opacity="0.2" transform="rotate(-30 640 500)"/></g><g opacity="0.28"><ellipse cx="630" cy="640" rx="72.9" ry="75.6" fill="url(#hg)" fill-opacity="0.22"/><ellipse cx="630" cy="640" rx="54" ry="56" fill="#f00" fill-opacity="0.07"/><ellipse cx="630" cy="640" rx="51.3" ry="53.2" fill="none" stroke="#f00" stroke-width="8.2" stroke-opacity="0.24"/><ellipse cx="630" cy="640" rx="33.48" ry="34.72" fill="none" stroke="#f00" stroke-width="8.2" stroke-opacity="0.23"/><ellipse cx="630" cy="640" rx="21.6" ry="22.4" fill="#f00" fill-opacity="0.22"/><ellipse cx="560" cy="578" rx="30" ry="26" fill="url(#hg)" fill-opacity="0.16"/></g><g opacity="0.24"><ellipse cx="330" cy="678" rx="103.6" ry="56" fill="url(#hg)" fill-opacity="0.22"/><ellipse cx="330" cy="678" rx="74" ry="40" fill="#f00" fill-opacity="0.07"/><ellipse cx="330" cy="678" rx="70.3" ry="38" fill="none" stroke="#f00" stroke-width="8.2" stroke-opacity="0.24"/><ellipse cx="330" cy="678" rx="45.88" ry="24.8" fill="none" stroke="#f00" stroke-width="8.2" stroke-opacity="0.21"/><ellipse cx="330" cy="678" rx="29.6" ry="16" fill="#f00" fill-opacity="0.18"/></g><g opacity="0.13"><ellipse cx="414" cy="588" rx="8" ry="8" fill="#f00" fill-opacity="0.4"/><ellipse cx="516" cy="554" rx="7" ry="7" fill="#f00" fill-opacity="0.4"/><ellipse cx="540" cy="556" rx="10" ry="10" fill="#f00" fill-opacity="0.3"/><ellipse cx="527" cy="532" rx="7" ry="7" fill="#f00" fill-opacity="0.35"/><ellipse cx="505" cy="584" rx="8" ry="8" fill="#f00" fill-opacity="0.3"/><ellipse cx="500" cy="600" rx="6" ry="6" fill="#f00" fill-opacity="0.3"/><ellipse cx="235" cy="575" rx="5" ry="5" fill="#f00" fill-opacity="0.35"/><ellipse cx="260" cy="435" rx="8" ry="8" fill="#f00" fill-opacity="0.35"/><ellipse cx="285" cy="610" rx="8" ry="8" fill="#f00" fill-opacity="0.3"/><ellipse cx="662" cy="322" rx="5" ry="5" fill="#f00" fill-opacity="0.4"/><ellipse cx="455" cy="108" rx="6" ry="6" fill="#f00" fill-opacity="0.3"/></g></g><g style="mix-blend-mode:screen"><ellipse cx="119.4" cy="565" rx="7.82" ry="9.35" fill="#0f0" fill-opacity="1"/><ellipse cx="218" cy="402.5" rx="3.89" ry="4.75" fill="#0f0" fill-opacity="1"/><ellipse cx="527" cy="23.3" rx="2.74" ry="3.34" fill="#0f0" fill-opacity="0.9"/><ellipse cx="646.7" cy="109" rx="2.59" ry="3.17" fill="#0f0" fill-opacity="0.8"/><ellipse cx="647.7" cy="185.4" rx="2.59" ry="3.17" fill="#0f0" fill-opacity="0.8"/><ellipse cx="535" cy="477.8" rx="2.3" ry="2.82" fill="#0f0" fill-opacity="0.8"/><ellipse cx="614.5" cy="482" rx="2.3" ry="2.82" fill="#0f0" fill-opacity="0.65"/><ellipse cx="639" cy="477.8" rx="2.16" ry="2.64" fill="#0f0" fill-opacity="0.6"/><ellipse cx="161" cy="168.7" rx="2.3" ry="2.82" fill="#0f0" fill-opacity="0.75"/><ellipse cx="174" cy="181.7" rx="2.45" ry="2.99" fill="#0f0" fill-opacity="0.55"/><ellipse cx="184.4" cy="217" rx="2.16" ry="2.64" fill="#0f0" fill-opacity="0.7"/><ellipse cx="379" cy="236" rx="2.16" ry="2.64" fill="#0f0" fill-opacity="0.6"/><ellipse cx="62.3" cy="438.9" rx="2.45" ry="2.99" fill="#0f0" fill-opacity="0.55"/><ellipse cx="228.5" cy="535" rx="2.59" ry="3.17" fill="#0f0" fill-opacity="0.7"/><ellipse cx="122" cy="5" rx="2.16" ry="2.64" fill="#0f0" fill-opacity="0.7"/></g></g><g filter="url(#db)"><g opacity="0.8"><circle cx="456.49" cy="66.65" r="2.23" fill="#a898ee" fill-opacity="0.51"/><circle cx="413.99" cy="571.61" r="2.41" fill="#a898ee" fill-opacity="0.47"/><circle cx="557.47" cy="351.61" r="2.21" fill="#a898ee" fill-opacity="0.56"/><circle cx="422.75" cy="253.49" r="3.11" fill="#a898ee" fill-opacity="0.33"/><circle cx="354.55" cy="77.59" r="2.78" fill="#a898ee" fill-opacity="0.31"/><circle cx="457.11" cy="409.25" r="2.55" fill="#a898ee" fill-opacity="0.36"/><circle cx="191.63" cy="259.78" r="3.06" fill="#a898ee" fill-opacity="0.59"/><circle cx="492.32" cy="303.73" r="3.1" fill="#a898ee" fill-opacity="0.39"/><circle cx="640.27" cy="658.66" r="2.92" fill="#a898ee" fill-opacity="0.58"/><circle cx="560" cy="66.26" r="2.71" fill="#a898ee" fill-opacity="0.67"/><circle cx="54.75" cy="199.22" r="2.82" fill="#a898ee" fill-opacity="0.41"/><circle cx="244.05" cy="479.43" r="2.92" fill="#a898ee" fill-opacity="0.49"/><circle cx="552.4" cy="383.65" r="2.41" fill="#a898ee" fill-opacity="0.55"/><circle cx="428.14" cy="390.68" r="2.25" fill="#a898ee" fill-opacity="0.48"/></g><circle cx="270" cy="372.9" r="2.91" fill="#c89a84" fill-opacity="0.95"/><circle cx="168.8" cy="337.6" r="2.91" fill="#d2b27c" fill-opacity="0.95"/><circle cx="96" cy="350.6" r="2.91" fill="#c89a84" fill-opacity="0.95"/><circle cx="192" cy="348" r="2.91" fill="#c89a84" fill-opacity="1"/><circle cx="111.6" cy="300" r="2.91" fill="#8fa8f0" fill-opacity="1"/><circle cx="95" cy="300" r="2.91" fill="#a6a2f2" fill-opacity="0.95"/><circle cx="148" cy="58" r="2.91" fill="#8fa8f0" fill-opacity="0.85"/><circle cx="176.6" cy="90.8" r="2.91" fill="#8fa8f0" fill-opacity="0.95"/><circle cx="241.5" cy="69" r="2.91" fill="#a6a2f2" fill-opacity="0.85"/><circle cx="93.5" cy="133.4" r="2.91" fill="#d2b27c" fill-opacity="0.95"/><circle cx="10.4" cy="73.7" r="2.69" fill="#d2b27c" fill-opacity="0.85"/><circle cx="26" cy="32" r="2.91" fill="#b4aef4" fill-opacity="0.85"/><circle cx="166" cy="542.8" r="2.91" fill="#c89a84" fill-opacity="1"/><circle cx="83" cy="546.4" r="2.91" fill="#c89a84" fill-opacity="1"/><circle cx="41.5" cy="543.8" r="2.69" fill="#b4aef4" fill-opacity="0.95"/><circle cx="13" cy="472.6" r="2.69" fill="#d2b27c" fill-opacity="0.85"/><circle cx="361" cy="445" r="2.69" fill="#8fa8f0" fill-opacity="0.76"/><circle cx="419" cy="398.9" r="2.69" fill="#b4aef4" fill-opacity="0.76"/><circle cx="446.7" cy="602.5" r="2.69" fill="#a6a2f2" fill-opacity="0.85"/><circle cx="549" cy="295" r="2.69" fill="#8fa8f0" fill-opacity="0.76"/><circle cx="115.8" cy="661" r="2.69" fill="#c89a84" fill-opacity="0.85"/><circle cx="168.8" cy="597.3" r="2.69" fill="#a6a2f2" fill-opacity="0.85"/><circle cx="207.8" cy="572.4" r="2.69" fill="#a6a2f2" fill-opacity="0.95"/><circle cx="599" cy="615.5" r="2.91" fill="#8fa8f0" fill-opacity="0.95"/><circle cx="596" cy="115" r="2.91" fill="#c89a84" fill-opacity="0.95"/></g></g>
</g>
<rect x="1478.4" y="875.3" width="18.7" height="684.2" fill="url(#cb)"/>
<rect x="536" y="714.3" width="135" height="13" fill="#fff"/>
<rect x="1314.8" y="710.6" width="135.5" height="12.1" fill="#fff"/>
<rect x="536" y="1509.7" width="135.2" height="13.7" fill="#fff"/>
<rect x="1318.4" y="1509.7" width="135.4" height="13.9" fill="#fff"/>
<text transform="translate(116.43 61.94) scale(0.6681 0.6779)" font-size="100" fill="#000" font-family="Liberation Serif, serif" font-weight="bold" >2850 cm<tspan font-size="64" dy="-32" stroke="#000" stroke-width="1.6">-1</tspan><tspan dy="32"> CARS</tspan></text>
<text transform="translate(897.13 61.94) scale(0.6685 0.6779)" font-size="100" fill="#000" font-family="Liberation Serif, serif" font-weight="bold" >2926 cm<tspan font-size="64" dy="-32" stroke="#000" stroke-width="1.6">-1</tspan><tspan dy="32"> CARS</tspan></text>
<text transform="translate(116.33 856.54) scale(0.6676 0.6779)" font-size="100" fill="#000" font-family="Liberation Serif, serif" font-weight="bold" >2967 cm<tspan font-size="64" dy="-32" stroke="#000" stroke-width="1.6">-1</tspan><tspan dy="32"> CARS</tspan></text>
<text transform="translate(897.33 860.45) scale(0.6676 0.6765)" font-size="100" fill="#000" font-family="Liberation Serif, serif" font-weight="bold" >2800 cm<tspan font-size="64" dy="-32" stroke="#000" stroke-width="1.6">-1</tspan><tspan dy="32"> CARS</tspan></text>
<text transform="translate(45.63 185.3) scale(1.1743 1.1803)" font-size="100" fill="#fff" font-family="Liberation Serif, serif" font-weight="bold" >A</text>
<text transform="translate(834.55 189.9) scale(1.0274 1.1892)" font-size="100" fill="#fff" font-family="Liberation Serif, serif" font-weight="bold" >B</text>
<text transform="translate(51 987.37) scale(1.2000 1.2303)" font-size="100" fill="#fff" font-family="Liberation Serif, serif" font-weight="bold" >C</text>
<text transform="translate(833.38 991.8) scale(1.3077 1.1985)" font-size="100" fill="#fff" font-family="Liberation Serif, serif" font-weight="bold" >D</text>
<text transform="translate(1596.49 175.9) scale(1.0067 1.1754)" font-size="100" fill="#000" font-family="Liberation Serif, serif" font-weight="bold" >E</text>
<text transform="translate(717.79 112.6) scale(0.3343 0.4530)" font-size="100" fill="#111" font-family="Liberation Serif, serif" >1</text>
<text transform="translate(715.7 760.09) scale(0.4500 0.4552)" font-size="100" fill="#111" font-family="Liberation Serif, serif" >0</text>
<text transform="translate(1501.73 112.2) scale(0.2971 0.4409)" font-size="100" fill="#111" font-family="Liberation Serif, serif" >1</text>
<text transform="translate(1498.19 760.09) scale(0.4524 0.4552)" font-size="100" fill="#111" font-family="Liberation Serif, serif" >0</text>
<text transform="translate(719.58 906) scale(0.2686 0.4333)" font-size="100" fill="#111" font-family="Liberation Serif, serif" >1</text>
<text transform="translate(715.69 1556.11) scale(0.4524 0.4433)" font-size="100" fill="#111" font-family="Liberation Serif, serif" >0</text>
<text transform="translate(1501.73 906) scale(0.2971 0.4333)" font-size="100" fill="#111" font-family="Liberation Serif, serif" >1</text>
<text transform="translate(1498.19 1556.1) scale(0.4524 0.4478)" font-size="100" fill="#111" font-family="Liberation Serif, serif" >0</text>
<g stroke="#000" stroke-width="4.2" fill="none" stroke-linecap="butt">
<path d="M1757.8 353.2V1176.5"/>
<path d="M1746 1174.3H2459.5"/>
<path d="M1746 1174.3H1757.8M1748 1133.36H1757.8M1748 1092.41H1757.8M1748 1051.46H1757.8M1746 1010.52H1757.8M1748 969.57H1757.8M1748 928.63H1757.8M1748 887.68H1757.8M1746 846.74H1757.8M1748 805.79H1757.8M1748 764.85H1757.8M1748 723.9H1757.8M1746 682.96H1757.8M1748 642.01H1757.8M1748 601.07H1757.8M1748 560.12H1757.8M1746 519.18H1757.8M1748 478.24H1757.8M1748 437.29H1757.8M1748 396.35H1757.8M1746 355.4H1757.8M1824.4 1174.3V1187M1991.6 1174.3V1187M2246.2 1174.3V1187M2383 1174.3V1187" stroke-width="4"/>
</g>
<polyline points="1824.4,827 1991.6,669.7 2246.2,451.2 2383,808.7" fill="none" stroke="#ff0000" stroke-width="5.2" stroke-linejoin="round"/>
<circle cx="1824.4" cy="827" r="11.6" fill="#ff0000"/>
<circle cx="1991.6" cy="669.7" r="11.6" fill="#ff0000"/>
<circle cx="2246.2" cy="451.2" r="11.6" fill="#ff0000"/>
<circle cx="2383" cy="808.7" r="11.6" fill="#ff0000"/>
<polyline points="1824.4,926.3 1991.6,843.5 2246.2,810.5 2383,915.7" fill="none" stroke="#ff0000" stroke-width="5.2" stroke-linejoin="round" stroke-dasharray="17 6.5"/>
<circle cx="1824.4" cy="926.3" r="11.6" fill="#ff0000"/>
<circle cx="1991.6" cy="843.5" r="11.6" fill="#ff0000"/>
<circle cx="2246.2" cy="810.5" r="11.6" fill="#ff0000"/>
<circle cx="2383" cy="915.7" r="11.6" fill="#ff0000"/>
<polyline points="1824.4,1013.4 1991.6,963.9 2246.2,953.7 2383,1007.8" fill="none" stroke="#00e4d0" stroke-width="5.2" stroke-linejoin="round"/>
<circle cx="1824.4" cy="1013.4" r="11.6" fill="#00e4d0"/>
<circle cx="1991.6" cy="963.9" r="11.6" fill="#00e4d0"/>
<circle cx="2246.2" cy="953.7" r="11.6" fill="#00e4d0"/>
<circle cx="2383" cy="1007.8" r="11.6" fill="#00e4d0"/>
<polyline points="1824.4,1092.5 1991.6,1092.5 2246.2,1080.8 2383,1090.6" fill="none" stroke="#0018b4" stroke-width="5.2" stroke-linejoin="round"/>
<circle cx="1824.4" cy="1092.5" r="11.6" fill="#0018b4"/>
<circle cx="1991.6" cy="1092.5" r="11.6" fill="#0018b4"/>
<circle cx="2246.2" cy="1080.8" r="11.6" fill="#0018b4"/>
<circle cx="2383" cy="1090.6" r="11.6" fill="#0018b4"/>
<path d="M1733 1399.6H1835" stroke="#ff0000" stroke-width="5.8" stroke-linecap="round" fill="none"/>
<circle cx="1783.2" cy="1399.6" r="11.8" fill="#ff0000"/>
<path d="M1733.5 1451.1H1749M1759.4 1451.1H1772M1798 1451.1H1815.2M1827.4 1451.1H1834.8" stroke="#ff0000" stroke-width="5.6" stroke-linecap="round" fill="none"/>
<circle cx="1783.2" cy="1451.1" r="11.8" fill="#ff0000"/>
<path d="M1733 1501.7H1835" stroke="#00e4d0" stroke-width="5.8" stroke-linecap="round" fill="none"/>
<circle cx="1783.2" cy="1501.7" r="11.8" fill="#00e4d0"/>
<path d="M1733 1553.3H1835" stroke="#0018b4" stroke-width="5.8" stroke-linecap="round" fill="none"/>
<circle cx="1783.2" cy="1553.3" r="11.8" fill="#0018b4"/>
<text transform="translate(1692.76 289.31) scale(0.6392 0.6283)" font-size="100" fill="#111" font-family="Liberation Serif, serif" >Average intensity of elements</text>
<text transform="translate(1700.45 366.2) scale(0.4171 0.3894)" font-size="100" fill="#333" font-family="Liberation Serif, serif" >1</text>
<text transform="translate(1673.47 530.74) scale(0.3829 0.3806)" font-size="100" fill="#333" font-family="Liberation Serif, serif" >0.8</text>
<text transform="translate(1673.48 692.04) scale(0.3797 0.3821)" font-size="100" fill="#333" font-family="Liberation Serif, serif" >0.6</text>
<text transform="translate(1673.49 857.22) scale(0.3765 0.3910)" font-size="100" fill="#333" font-family="Liberation Serif, serif" >0.4</text>
<text transform="translate(1673.44 1021.55) scale(0.3896 0.3746)" font-size="100" fill="#333" font-family="Liberation Serif, serif" >0.2</text>
<text transform="translate(1700.63 1185.64) scale(0.4167 0.3791)" font-size="100" fill="#333" font-family="Liberation Serif, serif" >0</text>
<text transform="translate(1781.29 1237.68) scale(0.4516 0.4597)" font-size="100" fill="#1c1c1c" font-family="Liberation Serif, serif" >2800</text>
<text transform="translate(1946.69 1237.68) scale(0.4516 0.4597)" font-size="100" fill="#1c1c1c" font-family="Liberation Serif, serif" >2850</text>
<text transform="translate(2194.7 1237.68) scale(0.4492 0.4597)" font-size="100" fill="#1c1c1c" font-family="Liberation Serif, serif" >2926</text>
<text transform="translate(2339.91 1237.68) scale(0.4487 0.4597)" font-size="100" fill="#1c1c1c" font-family="Liberation Serif, serif" >2967</text>
<text transform="translate(1913.7 1294.47) scale(0.4793 0.4155)" font-size="100" fill="#1c1c1c" font-family="Liberation Serif, serif">Wavenumbers <tspan x="581.82"  textLength="147.2" lengthAdjust="spacingAndGlyphs">(cm</tspan><tspan font-size="64" dy="-30" textLength="50.48" lengthAdjust="spacingAndGlyphs">-1</tspan><tspan dy="30" textLength="31.54" lengthAdjust="spacingAndGlyphs">)</tspan></text>
<text transform="translate(1650.34 907.31) rotate(-90) scale(0.4524 0.4600)" font-size="100" fill="#1c1c1c" font-family="Liberation Serif, serif" >Intensity (A.U.)</text>
<text transform="translate(1845.95 1411.79) scale(0.4183 0.4244)" font-size="100" fill="#1c1c1c" font-family="Liberation Serif, serif">Nanoparticle contrast <tspan x="876.96"  textLength="543.16" lengthAdjust="spacingAndGlyphs">(intracellular)</tspan></text>
<text transform="translate(1845.95 1463.59) scale(0.4183 0.4244)" font-size="100" fill="#1c1c1c" font-family="Liberation Serif, serif">Nanoparticle contrast <tspan x="877"  textLength="552.7" lengthAdjust="spacingAndGlyphs">(extracellular)</tspan></text>
<text transform="translate(1845.56 1512.62) scale(0.4091 0.3915)" font-size="100" fill="#1c1c1c" font-family="Liberation Serif, serif" >Cell contrast</text>
<text transform="translate(1845.96 1565.16) scale(0.4128 0.4067)" font-size="100" fill="#1c1c1c" font-family="Liberation Serif, serif" >Background contrast</text>
</svg></body></html>
